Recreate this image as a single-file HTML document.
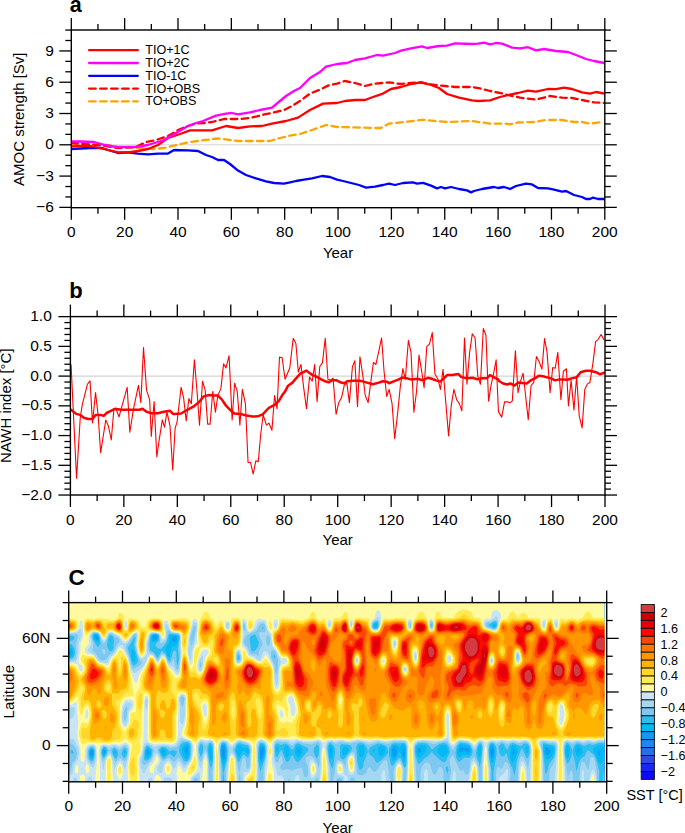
<!DOCTYPE html><html><head><meta charset="utf-8"><style>html,body{margin:0;padding:0;background:#fff;width:685px;height:833px;overflow:hidden}svg{display:block}</style></head><body>
<svg width="685" height="833" viewBox="0 0 685 833">
<rect width="685" height="833" fill="#fff"/>
<line x1="71.3" y1="144.8" x2="604.8" y2="144.8" stroke="#d4d4d4" stroke-width="1.0"/>
<g clip-path="url(#ca)">
<clipPath id="ca"><rect x="71.3" y="30.0" width="533.5" height="177.7"/></clipPath>
<path d="M71.3 144 L108 145 L118 147 L138 148 L154 149 L164 148 L174 145.6 L188 142.4 L205 140 L218 138.4 L238 141 L254 141 L270 141 L280 138 L290 135.6 L300 134 L312 130 L326 125 L337 127 L355 127.4 L375 128 L381 128 L389 123.6 L401 122.4 L413 121 L423 119.6 L435 121 L447 122 L459 121.6 L472 121 L482 122.4 L490 123.6 L506 123.6 L510 124.4 L518 122.4 L534 122 L546 120 L562 120 L574 122 L582 122 L590 123.6 L600 122.4" fill="none" stroke="#ffa500" stroke-width="2.3" stroke-linejoin="round" stroke-linecap="round" stroke-dasharray="6.6 4.4"/>
<path d="M71.3 149 L90 148 L102 148 L108 150 L118 153 L128 152.4 L138 153.6 L148 154.4 L158 153.6 L168 153.6 L174 150 L188 150.4 L198 151 L206 155 L212 157 L218 160 L224 160 L230 164 L238 170.6 L246 175 L256 178.4 L266 181.4 L274 183 L284 183.6 L290 182.4 L296 181 L304 179.6 L312 178.4 L322 176 L330 177 L337 179.6 L343 181 L351 183 L359 185 L366 187.6 L375 186.6 L383 185 L389 183.6 L395 185 L403 183 L413 182.4 L417 183.6 L423 182.8 L431 185.6 L437 188.4 L441 187 L445 188.4 L451 187 L459 189 L467 190.4 L471 192.4 L474 191 L482 189 L488 188 L494 187 L498 188 L504 187 L510 189 L516 186 L526 183.6 L532 184.4 L538 188 L548 188.4 L554 189.6 L562 191.6 L566 191 L574 195 L582 197 L586 199 L590 199 L593 197.6 L598 199 L604.5 199" fill="none" stroke="#0000ff" stroke-width="2.3" stroke-linejoin="round" stroke-linecap="round"/>
<path d="M71.3 143 L98 145 L118 148 L136 147 L146 142 L156 140 L168 136 L178 130 L188 126 L196 123.6 L205 123 L212 122 L224 119 L240 119 L252 117.6 L262 115 L274 112.4 L284 110 L292 106 L300 101 L310 93.6 L320 89.6 L328 85.6 L337 83.6 L345 81 L355 83 L365 86 L375 83.6 L389 82.4 L401 84 L411 83 L421 82.4 L431 84.4 L445 86 L455 87 L472 87 L480 88.4 L490 91 L500 93 L508 95 L520 97.6 L536 99.6 L550 96 L562 97.6 L572 98 L582 100 L594 102.4 L604.5 103" fill="none" stroke="#ff0000" stroke-width="2.3" stroke-linejoin="round" stroke-linecap="round" stroke-dasharray="6.6 4.4"/>
<path d="M71.3 146.4 L88 145.6 L104 149 L118 152.4 L128 152.4 L138 151 L148 149 L158 145 L168 138 L180 134 L190 130.4 L205 130.4 L212 130.4 L226 126 L238 128 L250 126.4 L262 126 L272 123.6 L286 121 L298 117.6 L310 110 L323 103.6 L337 103 L345 101 L355 100 L365 100 L373 97 L383 93.6 L391 89 L401 87 L411 84 L421 82.4 L431 85 L439 88 L447 94 L459 97.6 L472 100.4 L478 101 L490 100.4 L500 97 L510 94.6 L518 93 L528 90.6 L536 91.6 L548 89 L556 89.2 L564 87.6 L572 89 L582 92.4 L590 93.6 L596 92 L604.5 93.6" fill="none" stroke="#ff0000" stroke-width="2.3" stroke-linejoin="round" stroke-linecap="round"/>
<path d="M71.3 141.4 L80 141.5 L94 142 L105 145 L116 147 L126 147 L136 147 L148 145 L164 140 L176 133 L188 126 L196 123 L203 121 L216 115.6 L226 113.6 L232 113 L238 114.4 L250 112.4 L260 110 L272 107.6 L280 101 L286 96 L294 91 L300 88 L310 78 L320 72 L326 66.6 L337 64 L347 63 L355 60 L365 58.4 L377 55 L383 55.6 L395 53 L401 50.6 L411 48.4 L422 46.4 L427 48 L439 46 L447 45.6 L455 43.4 L472 44 L478 43.6 L484 42.6 L490 44.4 L496 43 L502 43.6 L512 47.6 L520 48.4 L528 47.2 L536 50.4 L544 49 L556 51 L568 52 L576 55 L586 59 L594 61 L604.5 63" fill="none" stroke="#ff00ff" stroke-width="2.3" stroke-linejoin="round" stroke-linecap="round"/>
</g>
<rect x="71.3" y="30" width="533.5" height="177.7" fill="none" stroke="#000" stroke-width="1.4"/>
<line x1="71.3" y1="207.7" x2="71.3" y2="219.7" stroke="#000" stroke-width="1.3"/>
<line x1="71.3" y1="30" x2="71.3" y2="18" stroke="#000" stroke-width="1.3"/>
<text x="71.3" y="237.2" font-size="15.5" text-anchor="middle" font-weight="normal" font-family="Liberation Sans, sans-serif">0</text>
<line x1="97.97" y1="207.7" x2="97.97" y2="213.7" stroke="#000" stroke-width="1.3"/>
<line x1="97.97" y1="30" x2="97.97" y2="24" stroke="#000" stroke-width="1.3"/>
<line x1="124.65" y1="207.7" x2="124.65" y2="219.7" stroke="#000" stroke-width="1.3"/>
<line x1="124.65" y1="30" x2="124.65" y2="18" stroke="#000" stroke-width="1.3"/>
<text x="124.65" y="237.2" font-size="15.5" text-anchor="middle" font-weight="normal" font-family="Liberation Sans, sans-serif">20</text>
<line x1="151.32" y1="207.7" x2="151.32" y2="213.7" stroke="#000" stroke-width="1.3"/>
<line x1="151.32" y1="30" x2="151.32" y2="24" stroke="#000" stroke-width="1.3"/>
<line x1="178" y1="207.7" x2="178" y2="219.7" stroke="#000" stroke-width="1.3"/>
<line x1="178" y1="30" x2="178" y2="18" stroke="#000" stroke-width="1.3"/>
<text x="178" y="237.2" font-size="15.5" text-anchor="middle" font-weight="normal" font-family="Liberation Sans, sans-serif">40</text>
<line x1="204.68" y1="207.7" x2="204.68" y2="213.7" stroke="#000" stroke-width="1.3"/>
<line x1="204.68" y1="30" x2="204.68" y2="24" stroke="#000" stroke-width="1.3"/>
<line x1="231.35" y1="207.7" x2="231.35" y2="219.7" stroke="#000" stroke-width="1.3"/>
<line x1="231.35" y1="30" x2="231.35" y2="18" stroke="#000" stroke-width="1.3"/>
<text x="231.35" y="237.2" font-size="15.5" text-anchor="middle" font-weight="normal" font-family="Liberation Sans, sans-serif">60</text>
<line x1="258.02" y1="207.7" x2="258.02" y2="213.7" stroke="#000" stroke-width="1.3"/>
<line x1="258.02" y1="30" x2="258.02" y2="24" stroke="#000" stroke-width="1.3"/>
<line x1="284.7" y1="207.7" x2="284.7" y2="219.7" stroke="#000" stroke-width="1.3"/>
<line x1="284.7" y1="30" x2="284.7" y2="18" stroke="#000" stroke-width="1.3"/>
<text x="284.7" y="237.2" font-size="15.5" text-anchor="middle" font-weight="normal" font-family="Liberation Sans, sans-serif">80</text>
<line x1="311.38" y1="207.7" x2="311.38" y2="213.7" stroke="#000" stroke-width="1.3"/>
<line x1="311.38" y1="30" x2="311.38" y2="24" stroke="#000" stroke-width="1.3"/>
<line x1="338.05" y1="207.7" x2="338.05" y2="219.7" stroke="#000" stroke-width="1.3"/>
<line x1="338.05" y1="30" x2="338.05" y2="18" stroke="#000" stroke-width="1.3"/>
<text x="338.05" y="237.2" font-size="15.5" text-anchor="middle" font-weight="normal" font-family="Liberation Sans, sans-serif">100</text>
<line x1="364.73" y1="207.7" x2="364.73" y2="213.7" stroke="#000" stroke-width="1.3"/>
<line x1="364.73" y1="30" x2="364.73" y2="24" stroke="#000" stroke-width="1.3"/>
<line x1="391.4" y1="207.7" x2="391.4" y2="219.7" stroke="#000" stroke-width="1.3"/>
<line x1="391.4" y1="30" x2="391.4" y2="18" stroke="#000" stroke-width="1.3"/>
<text x="391.4" y="237.2" font-size="15.5" text-anchor="middle" font-weight="normal" font-family="Liberation Sans, sans-serif">120</text>
<line x1="418.07" y1="207.7" x2="418.07" y2="213.7" stroke="#000" stroke-width="1.3"/>
<line x1="418.07" y1="30" x2="418.07" y2="24" stroke="#000" stroke-width="1.3"/>
<line x1="444.75" y1="207.7" x2="444.75" y2="219.7" stroke="#000" stroke-width="1.3"/>
<line x1="444.75" y1="30" x2="444.75" y2="18" stroke="#000" stroke-width="1.3"/>
<text x="444.75" y="237.2" font-size="15.5" text-anchor="middle" font-weight="normal" font-family="Liberation Sans, sans-serif">140</text>
<line x1="471.43" y1="207.7" x2="471.43" y2="213.7" stroke="#000" stroke-width="1.3"/>
<line x1="471.43" y1="30" x2="471.43" y2="24" stroke="#000" stroke-width="1.3"/>
<line x1="498.1" y1="207.7" x2="498.1" y2="219.7" stroke="#000" stroke-width="1.3"/>
<line x1="498.1" y1="30" x2="498.1" y2="18" stroke="#000" stroke-width="1.3"/>
<text x="498.1" y="237.2" font-size="15.5" text-anchor="middle" font-weight="normal" font-family="Liberation Sans, sans-serif">160</text>
<line x1="524.77" y1="207.7" x2="524.77" y2="213.7" stroke="#000" stroke-width="1.3"/>
<line x1="524.77" y1="30" x2="524.77" y2="24" stroke="#000" stroke-width="1.3"/>
<line x1="551.45" y1="207.7" x2="551.45" y2="219.7" stroke="#000" stroke-width="1.3"/>
<line x1="551.45" y1="30" x2="551.45" y2="18" stroke="#000" stroke-width="1.3"/>
<text x="551.45" y="237.2" font-size="15.5" text-anchor="middle" font-weight="normal" font-family="Liberation Sans, sans-serif">180</text>
<line x1="578.12" y1="207.7" x2="578.12" y2="213.7" stroke="#000" stroke-width="1.3"/>
<line x1="578.12" y1="30" x2="578.12" y2="24" stroke="#000" stroke-width="1.3"/>
<line x1="604.8" y1="207.7" x2="604.8" y2="219.7" stroke="#000" stroke-width="1.3"/>
<line x1="604.8" y1="30" x2="604.8" y2="18" stroke="#000" stroke-width="1.3"/>
<text x="604.8" y="237.2" font-size="15.5" text-anchor="middle" font-weight="normal" font-family="Liberation Sans, sans-serif">200</text>
<text x="338.05" y="258" font-size="15" text-anchor="middle" font-weight="normal" font-family="Liberation Sans, sans-serif">Year</text>
<line x1="65.3" y1="196.95" x2="71.3" y2="196.95" stroke="#000" stroke-width="1.3"/>
<line x1="604.8" y1="196.95" x2="610.8" y2="196.95" stroke="#000" stroke-width="1.3"/>
<line x1="65.3" y1="186.52" x2="71.3" y2="186.52" stroke="#000" stroke-width="1.3"/>
<line x1="604.8" y1="186.52" x2="610.8" y2="186.52" stroke="#000" stroke-width="1.3"/>
<line x1="65.3" y1="165.66" x2="71.3" y2="165.66" stroke="#000" stroke-width="1.3"/>
<line x1="604.8" y1="165.66" x2="610.8" y2="165.66" stroke="#000" stroke-width="1.3"/>
<line x1="65.3" y1="155.23" x2="71.3" y2="155.23" stroke="#000" stroke-width="1.3"/>
<line x1="604.8" y1="155.23" x2="610.8" y2="155.23" stroke="#000" stroke-width="1.3"/>
<line x1="65.3" y1="134.37" x2="71.3" y2="134.37" stroke="#000" stroke-width="1.3"/>
<line x1="604.8" y1="134.37" x2="610.8" y2="134.37" stroke="#000" stroke-width="1.3"/>
<line x1="65.3" y1="123.94" x2="71.3" y2="123.94" stroke="#000" stroke-width="1.3"/>
<line x1="604.8" y1="123.94" x2="610.8" y2="123.94" stroke="#000" stroke-width="1.3"/>
<line x1="65.3" y1="103.08" x2="71.3" y2="103.08" stroke="#000" stroke-width="1.3"/>
<line x1="604.8" y1="103.08" x2="610.8" y2="103.08" stroke="#000" stroke-width="1.3"/>
<line x1="65.3" y1="92.65" x2="71.3" y2="92.65" stroke="#000" stroke-width="1.3"/>
<line x1="604.8" y1="92.65" x2="610.8" y2="92.65" stroke="#000" stroke-width="1.3"/>
<line x1="65.3" y1="71.79" x2="71.3" y2="71.79" stroke="#000" stroke-width="1.3"/>
<line x1="604.8" y1="71.79" x2="610.8" y2="71.79" stroke="#000" stroke-width="1.3"/>
<line x1="65.3" y1="61.36" x2="71.3" y2="61.36" stroke="#000" stroke-width="1.3"/>
<line x1="604.8" y1="61.36" x2="610.8" y2="61.36" stroke="#000" stroke-width="1.3"/>
<line x1="65.3" y1="40.5" x2="71.3" y2="40.5" stroke="#000" stroke-width="1.3"/>
<line x1="604.8" y1="40.5" x2="610.8" y2="40.5" stroke="#000" stroke-width="1.3"/>
<line x1="65.3" y1="30.07" x2="71.3" y2="30.07" stroke="#000" stroke-width="1.3"/>
<line x1="604.8" y1="30.07" x2="610.8" y2="30.07" stroke="#000" stroke-width="1.3"/>
<line x1="59.3" y1="207.38" x2="71.3" y2="207.38" stroke="#000" stroke-width="1.3"/>
<line x1="604.8" y1="207.38" x2="616.8" y2="207.38" stroke="#000" stroke-width="1.3"/>
<text x="53.8" y="211.98" font-size="15.5" text-anchor="end" font-weight="normal" font-family="Liberation Sans, sans-serif">−6</text>
<line x1="59.3" y1="176.09" x2="71.3" y2="176.09" stroke="#000" stroke-width="1.3"/>
<line x1="604.8" y1="176.09" x2="616.8" y2="176.09" stroke="#000" stroke-width="1.3"/>
<text x="53.8" y="180.69" font-size="15.5" text-anchor="end" font-weight="normal" font-family="Liberation Sans, sans-serif">−3</text>
<line x1="59.3" y1="144.8" x2="71.3" y2="144.8" stroke="#000" stroke-width="1.3"/>
<line x1="604.8" y1="144.8" x2="616.8" y2="144.8" stroke="#000" stroke-width="1.3"/>
<text x="53.8" y="149.4" font-size="15.5" text-anchor="end" font-weight="normal" font-family="Liberation Sans, sans-serif">0</text>
<line x1="59.3" y1="113.51" x2="71.3" y2="113.51" stroke="#000" stroke-width="1.3"/>
<line x1="604.8" y1="113.51" x2="616.8" y2="113.51" stroke="#000" stroke-width="1.3"/>
<text x="53.8" y="118.11" font-size="15.5" text-anchor="end" font-weight="normal" font-family="Liberation Sans, sans-serif">3</text>
<line x1="59.3" y1="82.22" x2="71.3" y2="82.22" stroke="#000" stroke-width="1.3"/>
<line x1="604.8" y1="82.22" x2="616.8" y2="82.22" stroke="#000" stroke-width="1.3"/>
<text x="53.8" y="86.82" font-size="15.5" text-anchor="end" font-weight="normal" font-family="Liberation Sans, sans-serif">6</text>
<line x1="59.3" y1="50.93" x2="71.3" y2="50.93" stroke="#000" stroke-width="1.3"/>
<line x1="604.8" y1="50.93" x2="616.8" y2="50.93" stroke="#000" stroke-width="1.3"/>
<text x="53.8" y="55.53" font-size="15.5" text-anchor="end" font-weight="normal" font-family="Liberation Sans, sans-serif">9</text>
<text transform="translate(24.4 119.2) rotate(-90)" font-size="15" text-anchor="middle" font-weight="normal" font-family="Liberation Sans, sans-serif">AMOC strength [Sv]</text>
<text x="69.8" y="12.2" font-size="21.5" text-anchor="start" font-weight="bold" font-family="Liberation Sans, sans-serif">a</text>
<path d="M89.1 50.2 L137.8 50.2" fill="none" stroke="#ff0000" stroke-width="2.3" stroke-linejoin="round" stroke-linecap="round"/>
<text x="145.2" y="54.1" font-size="12.6" text-anchor="start" font-weight="normal" font-family="Liberation Sans, sans-serif">TIO+1C</text>
<path d="M89.1 63 L137.8 63" fill="none" stroke="#ff00ff" stroke-width="2.3" stroke-linejoin="round" stroke-linecap="round"/>
<text x="145.2" y="66.9" font-size="12.6" text-anchor="start" font-weight="normal" font-family="Liberation Sans, sans-serif">TIO+2C</text>
<path d="M89.1 75.8 L137.8 75.8" fill="none" stroke="#0000ff" stroke-width="2.3" stroke-linejoin="round" stroke-linecap="round"/>
<text x="145.2" y="79.7" font-size="12.6" text-anchor="start" font-weight="normal" font-family="Liberation Sans, sans-serif">TIO-1C</text>
<path d="M89.1 88.6 L137.8 88.6" fill="none" stroke="#ff0000" stroke-width="2.3" stroke-linejoin="round" stroke-linecap="round" stroke-dasharray="6.6 4.4"/>
<text x="145.2" y="92.5" font-size="12.6" text-anchor="start" font-weight="normal" font-family="Liberation Sans, sans-serif">TIO+OBS</text>
<path d="M89.1 101.4 L137.8 101.4" fill="none" stroke="#ffa500" stroke-width="2.3" stroke-linejoin="round" stroke-linecap="round" stroke-dasharray="6.6 4.4"/>
<text x="145.2" y="105.3" font-size="12.6" text-anchor="start" font-weight="normal" font-family="Liberation Sans, sans-serif">TO+OBS</text>
<line x1="70.4" y1="376.1" x2="605" y2="376.1" stroke="#c8c8c8" stroke-width="1.0"/>
<clipPath id="cb"><rect x="70.4" y="316.6" width="534.6" height="178.39999999999998"/></clipPath>
<g clip-path="url(#cb)">
<path d="M71.06 364.9 L76.57 478.16 L80.24 417.96 L82.29 404.69 L87.39 384.29 L90.04 380.82 L92.49 423.06 L95.55 392.45 L98.2 415.92 L100.65 452.65 L105.76 420 L108.41 426.12 L111.27 440 L113.92 408.78 L115.96 408.78 L119.02 416.94 L122.08 405.71 L127.18 387.35 L129.84 432.24 L133.31 409.8 L138.41 385.31 L140.86 402.65 L143.51 347.55 L146.57 390.41 L149.63 399.59 L151.27 436.33 L154.12 401.63 L156.78 456.73 L159.43 438.37 L162.29 420 L164.53 427.14 L166.98 411.84 L170.04 426.12 L172.69 470 L175.14 428.16 L177.04 422.04 L181.12 387.35 L183.57 397.55 L186.22 421.02 L188.88 398.57 L191.33 403.67 L194.39 359.8 L197.04 391.43 L199.49 425.1 L202.55 381.22 L205.2 390.41 L207.65 424.08 L210.1 424.08 L212.76 391.43 L215.41 412.24 L217.86 395.51 L220.92 388.37 L223.57 363.88 L226.02 367.96 L229.08 355.71 L232.14 420 L234.59 383.27 L237.24 391.43 L239.9 425.1 L242.35 389.39 L245.41 403.67 L248.06 462.45 L250.51 462.45 L253.16 474.08 L255.82 460.82 L258.27 461.84 L260.71 434.29 L263.16 414.9 L266.43 425.1 L268.88 423.06 L271.94 430.2 L274.59 395.51 L277.04 408.78 L279.49 357.14 L282.14 357.76 L285.06 379.18 L289.76 367.96 L293.22 338.37 L295.88 343.47 L298.33 372.04 L300.98 364.49 L303.63 387.35 L306.49 408.78 L309.55 377.14 L312.2 381.22 L314.65 364.49 L317.1 401.63 L319.76 366.53 L322.41 362.86 L325.27 338.37 L327.92 379.18 L330.57 380.2 L333.02 378.16 L336.08 414.29 L338.73 402.65 L341.59 397.55 L344.24 385.31 L346.9 383.27 L349.35 402.65 L352.41 366.94 L354.86 360.82 L357.51 406.73 L359.96 356.73 L362.61 374.08 L365.27 395.51 L368.12 402.65 L371.18 379.18 L373.43 362.45 L375.88 364.49 L378.94 350.61 L381.59 337.96 L384.04 371.02 L386.69 396.53 L389.14 389.39 L392.06 403.67 L394.71 438.78 L397.57 413.88 L400.22 387.35 L402.88 368.57 L405.33 379.18 L408.39 340.41 L411.04 352.65 L413.9 412.24 L416.55 391.43 L419 355.1 L421.65 371.02 L424.1 387.76 L426.76 346.53 L429.41 344.08 L432.27 332.65 L434.92 374.08 L437.98 379.18 L440.43 389.39 L443.08 369.39 L445.73 401.63 L448.59 435.92 L451.24 405.71 L453.9 389.39 L456.76 400 L459.41 403.67 L461.86 410.82 L464.51 337.96 L466.96 384.29 L469.61 352.65 L472.27 333.88 L475.12 337.96 L477.78 376.12 L480.43 384.29 L483.29 328.57 L485.94 335.31 L488.59 401.22 L491.04 385.31 L493.69 373.06 L496.14 359.8 L498.45 411.63 L501.71 417.14 L504.57 401.84 L507.22 401.84 L509.88 402.86 L512.33 400.82 L515.39 350.82 L518.04 392.65 L520.49 381.43 L523.14 373.27 L525.59 395.71 L528.24 419.59 L531.1 385.51 L533.76 382.45 L536.41 356.53 L538.86 361.02 L541.92 369.18 L544.57 338.57 L547.02 351.84 L550.08 392.65 L552.73 367.55 L555.18 368.16 L557.84 352.45 L560.9 399.8 L563.35 371.22 L566.41 368.78 L568.45 405.92 L571.1 380.41 L573.96 410 L576.61 376.33 L579.27 416.12 L582.12 427.96 L584.78 389.59 L587.43 383.88 L589.88 382.45 L592.94 363.06 L595.59 341.63 L598.04 339.59 L601.1 334.49 L603.76 339.59" fill="none" stroke="#ff0000" stroke-width="1.1" stroke-linejoin="round" stroke-linecap="round"/>
<path d="M71.06 409.8 L76.16 413.88 L80.24 414.9 L84.33 417.96 L88.41 418.98 L92.49 418.98 L95.55 414.9 L100.65 414.9 L103.71 415.92 L106.78 412.86 L110.86 410.82 L114.94 408.78 L121.06 409.8 L127.18 409.8 L133.31 409.8 L139.43 409.8 L142.49 408.78 L146.57 411.84 L151.67 413.27 L157.8 413.27 L163.92 411.84 L170.04 410.82 L173.1 413.88 L175 413.88 L181.12 413.47 L187.24 409.8 L193.37 406.73 L199.49 401.63 L203.57 396.53 L208.67 395.1 L213.78 395.51 L217.86 395.51 L221.94 399.59 L226.02 405.71 L230.1 409.8 L234.18 413.47 L240.31 413.88 L246.43 415.51 L252.55 416.53 L257.65 416.33 L262.76 414.29 L268.88 407.76 L275 404.69 L279.08 400.61 L282 395.51 L285.06 391.43 L288.12 385.71 L292.2 382.86 L296.29 378.16 L300.37 373.47 L303.43 372.04 L306.49 370.61 L309.55 373.06 L312.61 375.1 L316.69 376.73 L320.78 379.18 L324.86 381.22 L328.94 382.24 L332 380.2 L336.08 380.2 L340.16 382.24 L344.24 383.27 L347.31 381.22 L353.43 380.82 L359.55 380.82 L363.63 381.63 L367.71 382.86 L372.82 384.29 L377.92 382.86 L383.02 381.22 L387.1 381.84 L389 383.27 L393.08 381.63 L398.18 379.59 L402.27 377.55 L406.35 378.16 L411.45 379.59 L417.57 378.78 L422.67 380.2 L427.78 377.76 L431.86 378.78 L435.94 380.41 L440.02 381.63 L443.08 379.18 L447.16 375.1 L452.27 375.1 L458.39 374.08 L461.45 377.14 L466.55 378.16 L472.67 377.76 L476.76 379.18 L482.88 378.16 L486.96 378.16 L490.02 375.1 L498.04 379.39 L499.06 381.02 L503.14 383.47 L507.22 384.49 L510.29 383.47 L514.37 385.51 L518.45 382.45 L522.53 383.06 L526.61 383.47 L530.69 380.41 L534.78 378.37 L538.86 375.71 L542.94 376.33 L547.02 377.35 L551.1 378.37 L555.18 380.41 L559.27 379.39 L563.35 379.39 L567.43 379.8 L571.51 378.37 L576.61 377.35 L580.69 372.24 L585.8 370.82 L589.88 370.82 L596 372.24 L600.08 374.29 L603.76 372.86" fill="none" stroke="#ff0000" stroke-width="2.5" stroke-linejoin="round" stroke-linecap="round"/>
</g>
<rect x="70.4" y="316.6" width="534.6" height="178.4" fill="none" stroke="#000" stroke-width="1.4"/>
<line x1="70.4" y1="495" x2="70.4" y2="507" stroke="#000" stroke-width="1.3"/>
<line x1="70.4" y1="316.6" x2="70.4" y2="304.6" stroke="#000" stroke-width="1.3"/>
<text x="70.4" y="524.6" font-size="15.5" text-anchor="middle" font-weight="normal" font-family="Liberation Sans, sans-serif">0</text>
<line x1="97.13" y1="495" x2="97.13" y2="501" stroke="#000" stroke-width="1.3"/>
<line x1="97.13" y1="316.6" x2="97.13" y2="310.6" stroke="#000" stroke-width="1.3"/>
<line x1="123.86" y1="495" x2="123.86" y2="507" stroke="#000" stroke-width="1.3"/>
<line x1="123.86" y1="316.6" x2="123.86" y2="304.6" stroke="#000" stroke-width="1.3"/>
<text x="123.86" y="524.6" font-size="15.5" text-anchor="middle" font-weight="normal" font-family="Liberation Sans, sans-serif">20</text>
<line x1="150.59" y1="495" x2="150.59" y2="501" stroke="#000" stroke-width="1.3"/>
<line x1="150.59" y1="316.6" x2="150.59" y2="310.6" stroke="#000" stroke-width="1.3"/>
<line x1="177.32" y1="495" x2="177.32" y2="507" stroke="#000" stroke-width="1.3"/>
<line x1="177.32" y1="316.6" x2="177.32" y2="304.6" stroke="#000" stroke-width="1.3"/>
<text x="177.32" y="524.6" font-size="15.5" text-anchor="middle" font-weight="normal" font-family="Liberation Sans, sans-serif">40</text>
<line x1="204.05" y1="495" x2="204.05" y2="501" stroke="#000" stroke-width="1.3"/>
<line x1="204.05" y1="316.6" x2="204.05" y2="310.6" stroke="#000" stroke-width="1.3"/>
<line x1="230.78" y1="495" x2="230.78" y2="507" stroke="#000" stroke-width="1.3"/>
<line x1="230.78" y1="316.6" x2="230.78" y2="304.6" stroke="#000" stroke-width="1.3"/>
<text x="230.78" y="524.6" font-size="15.5" text-anchor="middle" font-weight="normal" font-family="Liberation Sans, sans-serif">60</text>
<line x1="257.51" y1="495" x2="257.51" y2="501" stroke="#000" stroke-width="1.3"/>
<line x1="257.51" y1="316.6" x2="257.51" y2="310.6" stroke="#000" stroke-width="1.3"/>
<line x1="284.24" y1="495" x2="284.24" y2="507" stroke="#000" stroke-width="1.3"/>
<line x1="284.24" y1="316.6" x2="284.24" y2="304.6" stroke="#000" stroke-width="1.3"/>
<text x="284.24" y="524.6" font-size="15.5" text-anchor="middle" font-weight="normal" font-family="Liberation Sans, sans-serif">80</text>
<line x1="310.97" y1="495" x2="310.97" y2="501" stroke="#000" stroke-width="1.3"/>
<line x1="310.97" y1="316.6" x2="310.97" y2="310.6" stroke="#000" stroke-width="1.3"/>
<line x1="337.7" y1="495" x2="337.7" y2="507" stroke="#000" stroke-width="1.3"/>
<line x1="337.7" y1="316.6" x2="337.7" y2="304.6" stroke="#000" stroke-width="1.3"/>
<text x="337.7" y="524.6" font-size="15.5" text-anchor="middle" font-weight="normal" font-family="Liberation Sans, sans-serif">100</text>
<line x1="364.43" y1="495" x2="364.43" y2="501" stroke="#000" stroke-width="1.3"/>
<line x1="364.43" y1="316.6" x2="364.43" y2="310.6" stroke="#000" stroke-width="1.3"/>
<line x1="391.16" y1="495" x2="391.16" y2="507" stroke="#000" stroke-width="1.3"/>
<line x1="391.16" y1="316.6" x2="391.16" y2="304.6" stroke="#000" stroke-width="1.3"/>
<text x="391.16" y="524.6" font-size="15.5" text-anchor="middle" font-weight="normal" font-family="Liberation Sans, sans-serif">120</text>
<line x1="417.89" y1="495" x2="417.89" y2="501" stroke="#000" stroke-width="1.3"/>
<line x1="417.89" y1="316.6" x2="417.89" y2="310.6" stroke="#000" stroke-width="1.3"/>
<line x1="444.62" y1="495" x2="444.62" y2="507" stroke="#000" stroke-width="1.3"/>
<line x1="444.62" y1="316.6" x2="444.62" y2="304.6" stroke="#000" stroke-width="1.3"/>
<text x="444.62" y="524.6" font-size="15.5" text-anchor="middle" font-weight="normal" font-family="Liberation Sans, sans-serif">140</text>
<line x1="471.35" y1="495" x2="471.35" y2="501" stroke="#000" stroke-width="1.3"/>
<line x1="471.35" y1="316.6" x2="471.35" y2="310.6" stroke="#000" stroke-width="1.3"/>
<line x1="498.08" y1="495" x2="498.08" y2="507" stroke="#000" stroke-width="1.3"/>
<line x1="498.08" y1="316.6" x2="498.08" y2="304.6" stroke="#000" stroke-width="1.3"/>
<text x="498.08" y="524.6" font-size="15.5" text-anchor="middle" font-weight="normal" font-family="Liberation Sans, sans-serif">160</text>
<line x1="524.81" y1="495" x2="524.81" y2="501" stroke="#000" stroke-width="1.3"/>
<line x1="524.81" y1="316.6" x2="524.81" y2="310.6" stroke="#000" stroke-width="1.3"/>
<line x1="551.54" y1="495" x2="551.54" y2="507" stroke="#000" stroke-width="1.3"/>
<line x1="551.54" y1="316.6" x2="551.54" y2="304.6" stroke="#000" stroke-width="1.3"/>
<text x="551.54" y="524.6" font-size="15.5" text-anchor="middle" font-weight="normal" font-family="Liberation Sans, sans-serif">180</text>
<line x1="578.27" y1="495" x2="578.27" y2="501" stroke="#000" stroke-width="1.3"/>
<line x1="578.27" y1="316.6" x2="578.27" y2="310.6" stroke="#000" stroke-width="1.3"/>
<line x1="605" y1="495" x2="605" y2="507" stroke="#000" stroke-width="1.3"/>
<line x1="605" y1="316.6" x2="605" y2="304.6" stroke="#000" stroke-width="1.3"/>
<text x="605" y="524.6" font-size="15.5" text-anchor="middle" font-weight="normal" font-family="Liberation Sans, sans-serif">200</text>
<text x="337.7" y="545.4" font-size="15" text-anchor="middle" font-weight="normal" font-family="Liberation Sans, sans-serif">Year</text>
<line x1="64.4" y1="489.09" x2="70.4" y2="489.09" stroke="#000" stroke-width="1.3"/>
<line x1="605" y1="489.09" x2="611" y2="489.09" stroke="#000" stroke-width="1.3"/>
<line x1="64.4" y1="483.15" x2="70.4" y2="483.15" stroke="#000" stroke-width="1.3"/>
<line x1="605" y1="483.15" x2="611" y2="483.15" stroke="#000" stroke-width="1.3"/>
<line x1="64.4" y1="477.2" x2="70.4" y2="477.2" stroke="#000" stroke-width="1.3"/>
<line x1="605" y1="477.2" x2="611" y2="477.2" stroke="#000" stroke-width="1.3"/>
<line x1="64.4" y1="471.25" x2="70.4" y2="471.25" stroke="#000" stroke-width="1.3"/>
<line x1="605" y1="471.25" x2="611" y2="471.25" stroke="#000" stroke-width="1.3"/>
<line x1="64.4" y1="459.36" x2="70.4" y2="459.36" stroke="#000" stroke-width="1.3"/>
<line x1="605" y1="459.36" x2="611" y2="459.36" stroke="#000" stroke-width="1.3"/>
<line x1="64.4" y1="453.41" x2="70.4" y2="453.41" stroke="#000" stroke-width="1.3"/>
<line x1="605" y1="453.41" x2="611" y2="453.41" stroke="#000" stroke-width="1.3"/>
<line x1="64.4" y1="447.46" x2="70.4" y2="447.46" stroke="#000" stroke-width="1.3"/>
<line x1="605" y1="447.46" x2="611" y2="447.46" stroke="#000" stroke-width="1.3"/>
<line x1="64.4" y1="441.52" x2="70.4" y2="441.52" stroke="#000" stroke-width="1.3"/>
<line x1="605" y1="441.52" x2="611" y2="441.52" stroke="#000" stroke-width="1.3"/>
<line x1="64.4" y1="429.62" x2="70.4" y2="429.62" stroke="#000" stroke-width="1.3"/>
<line x1="605" y1="429.62" x2="611" y2="429.62" stroke="#000" stroke-width="1.3"/>
<line x1="64.4" y1="423.68" x2="70.4" y2="423.68" stroke="#000" stroke-width="1.3"/>
<line x1="605" y1="423.68" x2="611" y2="423.68" stroke="#000" stroke-width="1.3"/>
<line x1="64.4" y1="417.73" x2="70.4" y2="417.73" stroke="#000" stroke-width="1.3"/>
<line x1="605" y1="417.73" x2="611" y2="417.73" stroke="#000" stroke-width="1.3"/>
<line x1="64.4" y1="411.78" x2="70.4" y2="411.78" stroke="#000" stroke-width="1.3"/>
<line x1="605" y1="411.78" x2="611" y2="411.78" stroke="#000" stroke-width="1.3"/>
<line x1="64.4" y1="399.89" x2="70.4" y2="399.89" stroke="#000" stroke-width="1.3"/>
<line x1="605" y1="399.89" x2="611" y2="399.89" stroke="#000" stroke-width="1.3"/>
<line x1="64.4" y1="393.94" x2="70.4" y2="393.94" stroke="#000" stroke-width="1.3"/>
<line x1="605" y1="393.94" x2="611" y2="393.94" stroke="#000" stroke-width="1.3"/>
<line x1="64.4" y1="387.99" x2="70.4" y2="387.99" stroke="#000" stroke-width="1.3"/>
<line x1="605" y1="387.99" x2="611" y2="387.99" stroke="#000" stroke-width="1.3"/>
<line x1="64.4" y1="382.05" x2="70.4" y2="382.05" stroke="#000" stroke-width="1.3"/>
<line x1="605" y1="382.05" x2="611" y2="382.05" stroke="#000" stroke-width="1.3"/>
<line x1="64.4" y1="370.15" x2="70.4" y2="370.15" stroke="#000" stroke-width="1.3"/>
<line x1="605" y1="370.15" x2="611" y2="370.15" stroke="#000" stroke-width="1.3"/>
<line x1="64.4" y1="364.21" x2="70.4" y2="364.21" stroke="#000" stroke-width="1.3"/>
<line x1="605" y1="364.21" x2="611" y2="364.21" stroke="#000" stroke-width="1.3"/>
<line x1="64.4" y1="358.26" x2="70.4" y2="358.26" stroke="#000" stroke-width="1.3"/>
<line x1="605" y1="358.26" x2="611" y2="358.26" stroke="#000" stroke-width="1.3"/>
<line x1="64.4" y1="352.31" x2="70.4" y2="352.31" stroke="#000" stroke-width="1.3"/>
<line x1="605" y1="352.31" x2="611" y2="352.31" stroke="#000" stroke-width="1.3"/>
<line x1="64.4" y1="340.42" x2="70.4" y2="340.42" stroke="#000" stroke-width="1.3"/>
<line x1="605" y1="340.42" x2="611" y2="340.42" stroke="#000" stroke-width="1.3"/>
<line x1="64.4" y1="334.47" x2="70.4" y2="334.47" stroke="#000" stroke-width="1.3"/>
<line x1="605" y1="334.47" x2="611" y2="334.47" stroke="#000" stroke-width="1.3"/>
<line x1="64.4" y1="328.52" x2="70.4" y2="328.52" stroke="#000" stroke-width="1.3"/>
<line x1="605" y1="328.52" x2="611" y2="328.52" stroke="#000" stroke-width="1.3"/>
<line x1="64.4" y1="322.58" x2="70.4" y2="322.58" stroke="#000" stroke-width="1.3"/>
<line x1="605" y1="322.58" x2="611" y2="322.58" stroke="#000" stroke-width="1.3"/>
<line x1="58.4" y1="495.04" x2="70.4" y2="495.04" stroke="#000" stroke-width="1.3"/>
<line x1="605" y1="495.04" x2="617" y2="495.04" stroke="#000" stroke-width="1.3"/>
<text x="51.8" y="499.64" font-size="15.5" text-anchor="end" font-weight="normal" font-family="Liberation Sans, sans-serif">−2.0</text>
<line x1="58.4" y1="465.31" x2="70.4" y2="465.31" stroke="#000" stroke-width="1.3"/>
<line x1="605" y1="465.31" x2="617" y2="465.31" stroke="#000" stroke-width="1.3"/>
<text x="51.8" y="469.91" font-size="15.5" text-anchor="end" font-weight="normal" font-family="Liberation Sans, sans-serif">−1.5</text>
<line x1="58.4" y1="435.57" x2="70.4" y2="435.57" stroke="#000" stroke-width="1.3"/>
<line x1="605" y1="435.57" x2="617" y2="435.57" stroke="#000" stroke-width="1.3"/>
<text x="51.8" y="440.17" font-size="15.5" text-anchor="end" font-weight="normal" font-family="Liberation Sans, sans-serif">−1.0</text>
<line x1="58.4" y1="405.84" x2="70.4" y2="405.84" stroke="#000" stroke-width="1.3"/>
<line x1="605" y1="405.84" x2="617" y2="405.84" stroke="#000" stroke-width="1.3"/>
<text x="51.8" y="410.44" font-size="15.5" text-anchor="end" font-weight="normal" font-family="Liberation Sans, sans-serif">−0.5</text>
<line x1="58.4" y1="376.1" x2="70.4" y2="376.1" stroke="#000" stroke-width="1.3"/>
<line x1="605" y1="376.1" x2="617" y2="376.1" stroke="#000" stroke-width="1.3"/>
<text x="51.8" y="380.7" font-size="15.5" text-anchor="end" font-weight="normal" font-family="Liberation Sans, sans-serif">0.0</text>
<line x1="58.4" y1="346.37" x2="70.4" y2="346.37" stroke="#000" stroke-width="1.3"/>
<line x1="605" y1="346.37" x2="617" y2="346.37" stroke="#000" stroke-width="1.3"/>
<text x="51.8" y="350.97" font-size="15.5" text-anchor="end" font-weight="normal" font-family="Liberation Sans, sans-serif">0.5</text>
<line x1="58.4" y1="316.63" x2="70.4" y2="316.63" stroke="#000" stroke-width="1.3"/>
<line x1="605" y1="316.63" x2="617" y2="316.63" stroke="#000" stroke-width="1.3"/>
<text x="51.8" y="321.23" font-size="15.5" text-anchor="end" font-weight="normal" font-family="Liberation Sans, sans-serif">1.0</text>
<text transform="translate(11.3 405.7) rotate(-90)" font-size="15" text-anchor="middle" font-weight="normal" font-family="Liberation Sans, sans-serif">NAWH index [°C]</text>
<text x="69.2" y="297.6" font-size="22" text-anchor="start" font-weight="bold" font-family="Liberation Sans, sans-serif">b</text>
<clipPath id="cc"><rect x="68.7" y="602.6" width="535.8" height="179.2"/></clipPath>
<g clip-path="url(#cc)">
<rect x="68.7" y="602.6" width="535.8" height="179.2" fill="#0f0af5"/>
<path transform="scale(.5)" d="M140 1205l1069 0 0 359-1072 0 0-359z" fill="#1928f0" fill-rule="evenodd"/>
<path transform="scale(.5)" d="M140 1205l1069 0 0 359-1072 0 0-359z" fill="#2d4be1" fill-rule="evenodd"/>
<path transform="scale(.5)" d="M140 1205l1069 0 0 359-1072 0 0-359z" fill="#286ee6" fill-rule="evenodd"/>
<path transform="scale(.5)" d="M140 1205l1069 0 0 359-1072 0 0-359z" fill="#1e87f0" fill-rule="evenodd"/>
<path transform="scale(.5)" d="M140 1205l1069 0 0 359-1072 0 0-359zM445 1498l0 8 1 5 1-1 1-8-2-6zM983 1498l0 4 0 6 2-6-2-5zM524 1500l-2 4 0 2 2 2 1-4-1-5z" fill="#0f9bf5" fill-rule="evenodd"/>
<path transform="scale(.5)" d="M140 1205l1069 0 0 359-1072 0 0-254 3-1 2-4-2-4-3-1 0-95zM190 1271l-1 2 2 4 3 3 1-1 2-2-1-4-2-2-3-1zM307 1271l-2 4 2 4 2 1 3-1 3-4 0-2-3-3-3 0zM348 1273l-4 2-1 4 3 4 4 1 2-1 2-6-2-4-2 0zM445 1492l-1 1-1 5 0 12 3 10 3-1 2-9 0-10-2-8-3-1zM372 1494l-2 2-1 6 2 6 3 1 2-3 0-6 0-4-2-3zM522 1494l-2 4-1 8 2 13 3-2 4-11 0-8-1-3-3-2zM787 1494l-3 6 1 10 2 5 3-1 3-6 1-8-3-6-1-1-3 0zM921 1494l-2 1-1 3 1 7 3 0 5-5 8 5 3-1 1-4-2-4-5-1-5 1-5-3zM982 1494l-2 6 1 10 2 6 3-2 2-6 0-8-2-6-3-2zM661 1496l-1 6 1 5 2-5-2-7zM806 1496l-1 12 1 5 3 2 1-7-1-10 0-2-3-1zM838 1496l-2 0-1 6 1 4 2 1 4-3 0-4-1-3-3-2zM1091 1496l-1 10 4 5 2 0 4-5 1-4-3-4-4-4-3 1zM1134 1496l0 10 2-2 0-4-2-5zM959 1498l0 6 0-7zM1155 1498l0 6 3 0 0-6-3-1zM183 1500l-3 3 0 5 3 5 3-2 1-5-1-4 0-2-3-1zM295 1500l-2 1 0 5 0 3 3 1 3-4 0-2-3-5zM421 1500l0 4 1 8 0-14zM595 1500l1 4 1 1 1-1 1-2-2-4zM764 1500l0 2 2 1 0-4zM886 1500l1 2 0-3zM1026 1500l-1 6 0 4 1 1 3-4 0-7-3-2zM207 1502l0 5 3-2 0-4-3-1zM325 1502l0 4 3 0 0-4-3-2zM1195 1502l1 3 2 8 2-3-2-9-2 0z" fill="#00b9f5" fill-rule="evenodd"/>
<path transform="scale(.5)" d="M140 1205l1069 0 0 359-1072 0 0-249 6-2 2-3 1-5 0-4-2-4-7-2 0-90zM749 1247l-2 4 0 2 3 3 3-1 2-3 0-5-3-2-2 2zM988 1247l-2 2 0 4 3 1 2-1 1-2-1-3-2-1zM188 1269l-1 4 1 6 6 5 2 1 3-6-2-8-3-3-6 1zM306 1269l-3 4 0 8 1 2 3 1 5-1 3-2 1-4 0-6-4-2-5 0zM340 1271l-1 3-2 13-6 8-1 4 6 15 3 1 4-20 4-3 5-1 3-5 2-9 0-4-2-2-13-1zM221 1275l-2 4 2 4 1-4-1-4zM263 1301l0 8 1 10 2 4 3 0 1-2 1-6-2-10-3-5-2-1zM371 1488l-5 4-2 4 0 6 4 12 3 3 3 1 2-2 3-6 0-14 0-4-3-4-5-1zM446 1488l-2 1-2 5-1 12 4 20 1 3 3-1 3-10 1-18-2-8-2-4-3-1zM477 1490l-3 4-2 6 1 6 3 7 2 2 9-15 8 9 2-2 1-5-1-4-2-3-8 1-6-6-3-1zM521 1490l-2 4-1 14 1 14 2 6 3-3 3-6 3-10 0-7 0-6-2-4-4-3-3 0zM661 1490l-3 2-1 8 1 12 4 6 2-1 1-3 2-12-2-8-4-5zM786 1490l-3 4-2 8 1 12 3 7 2 1 3-2 6-10 2-7 3 4 5 15 3 3 2-7 1-10 0-12-3-6-3-2-2 2-6 5-2-3-3-2-6-1zM918 1490l-2 4-2 8 0 6 2 5 3 2 8-6 11 1 2-2 2-4 0-4-2-5-2-4-16-3-3 1zM981 1490l-2 6 0 12 2 11 2 7 1 0 2-1 3-9 1-14-2-10-2-3-3-1zM1133 1490l-2 6 0 12 3 8 2 0 3-8 1-10-2-6-4-3zM419 1492l-2 4 0 6 2 14 3 9 3-9-1-16-2-10-3 1zM571 1492l-3 4 0 6 4 12 3 1 3-5 1-8-3-8-4-3zM594 1492l-3 6-1 8 4 8 3 1 5-5 3-8-1-6-5-4-2-1zM719 1492l-2 6 1 12 2 4 3 0 3-2 3-6 0-10-3-5-3-1-3 1zM835 1492l-2 2-1 6 1 10 3 5 2 2 3-2 10-11 2-8-1-3-3-2-8-1-5 1zM881 1492l-6 6 0 6 4 5 5 5 3 0 2-1 6-7 1-4-1-6-3-4-3-2-2 0-6 1zM958 1492l-2 6-1 8 2 6 2 3 3-6 1-11-1-7-3-1zM1023 1492l-2 6-1 14 2 8 2 4 2 1 3-3 5-14 2-8-2-4-4-4-4-2-2 1zM1088 1492l-1 6 1 10 3 9 3 2 2 0 6-5 5-7 1-7-1-5-13-5-3 0-3 1zM1152 1492l-2 8 3 11 2 3 3-1 4-3 3-6-1-6-2-4-4-3-3-1-2 1zM1194 1492l-6 4-2 4 6 12 6 14 3 2 3-2 2-6 2-22-1-4-2-2-4-2-5 1zM553 1494l-1 4 1 6 1 2 2-4 1-6-1-2-2-1zM687 1494l-2 4 0 11 3 3 3-2 5-6 2-6-3-4-7-1zM758 1494l-2 2 0 4 1 10 3 2 6-1 4-5 1-8-2-4-3-2-6 0zM1052 1494l-1 4 2 6 0 1 3 1 1-8-1-3-3-2zM294 1496l-4 5 0 9 1 4 2 2 3 0 3-2 2-4 1-6-2-6-4-3zM1003 1496l0 2 2 2 0-6zM181 1498l-2 4-1 8 3 6 2 1 3-1 2-6 0-8-2-4-3-1zM206 1498l-1 4 0 6 2 4 3-2 3-8-2-4-4-1zM323 1498l-2 4 1 4 3 6 3 0 3-2 2-6-2-6-6-2zM746 1500l1 4 3-2 0-2-3-2zM228 1502l1 7 2 0 1-5-3-4zM248 1502l0 5 2 1 1-4-1-4z" fill="#28bef0" fill-rule="evenodd"/>
<path transform="scale(.5)" d="M140 1205l1069 0 0 282-11-1-13 4-8-2-8 4-3-1-8-4-5 0-5 5-3 8 0 6 5 18 3 19 5-19 5-8 7-4 4-11 3 0 11 9 4 8 7 26-1 20-211 0 0-20 6-34 0-10 0-4-3-6-4-4-3 0-2 1-2 3-2 10 1 14 5 28 0 22-301 0-2-4-3 2 0 2-228 0-2-18 7-26 1-18-2-12-3-4-4-1-2 1-2 4-2 10 1 13 5 33-1 18-308 0 0-26 2-6-2-6 0-208 6-1 3-2 3-4 1-6-1-8-4-6-2-2-6-1 0-6 8-1 3-3 1-3-1-2-3-1-8-1 0-66zM751 1243l-5 4-1 6 2 4 5 1 4-3 1-6-1-6-4 0zM988 1243l-10 6-1 2 9 6 3 0 2-1 3-5 0-4-2-4-3 0zM862 1249l1 5 1-3-1-3zM524 1255l0 2 3 0 0-3-3 0zM187 1267l-2 4 0 6 9 15 2 2 3-3 2-4-2-14-2-4-2-2-7 0zM307 1267l-6 4-1 6-1 16 2 8 7 4 7 11 2-3 6-11 2 0 6 6 5 12 3 2 3-3 4-16 1-1 3-1 2 2 1 4 0 16 2 9 3-13-2-22 3-20-1-6-3-2-16-2-2 2-4 16-10 12-3 1-6-3-3-4 1-4 4-4 2-4 0-8-3-3-8-1zM508 1269l-7 4-2 6 1 6 2 14 1 2 2 2 3-1 3-2 5-7 2-8-5-11-2-4-3-1zM219 1271l-4 10-1 10 4 10 3 2 2-1 3-3 1-4 1-16-2-6-3-2-2-1zM269 1273l-6 12-6 8-1 4 8 31 2 3 3 0 5-4 1-2 1-4-8-32 3-14-2-2zM476 1309l-1 6 0 4 1 1 3-1 0-8-3-2zM548 1309l-1 4 1 4 3-2-1-4-2-3zM365 1486l-3 2-3 6-1 6 0 4 10 18 3 1 3 0 3-3 3-6 1-10 0-12-2-6-3-2-5 0-5 1zM478 1486l-2 1-3 3-4 10 7 23 2 2 6-13 3-3 2 1 6 5 2 0 3-13-3-9-2-2-17-5zM803 1486l-5 1-8-1-6 2-6 8-1 8 4 22 1 3 2 3 1 0 2-2 6-9 5-5 3 1 2 5 6 14 3-3 1-9 0-30-1-5-3-3-6 0zM919 1486l-5 6-3 12 1 10 4 9 3 1 8-8 3-1 8 1 2-2 4-4 1-6-1-6-4-8-5-3-13-2-3 0zM418 1488l-3 6 0 6 4 28 3 10 4-16 0-26-1-6-2-2-1-2-3 0zM519 1488l-2 8-1 20 3 19 2 9 9-28 2-14-1-6-1-6-3-3-6-1zM552 1488l-2 4 0 6 0 10 2 6 2 1 2-3 6-12 2 2 6 16 2 5 3 1 3-2 5-11 3 0 5 11 3 2 3 0 2-2 18-22-1-4-19-9-3 0-3 2-5 10-3 0-4-7-5-4-4-1-8 3-6-3-2 0zM658 1488l-2 3-1 5 2 16 1 9 6 16 2-1 4-28 0-10-2-6-4-4-3-2-3 1zM716 1488l-2 2-2 4 3 31 3 13 2 2 3-1 3-5 2-10 4-10 4-12-3-8-5-6-5-2-5 1zM754 1488l-13 6-3 4-1 4 1 4 2 4 7 5 5 9 3 2 3-2 14-12 4-6 0-4-1-6-3-4-9-4-8-1zM835 1488l-3 2-2 4 0 8 1 10 5 16 2 0 11-11 10-7 4-6 2 1 2 3 17 15 5 2 3-3 8-18-2-8-3-7-3-2-5-1-8 2-9 6-5 5-2-1-4-6-5-5-8-1-10 1zM958 1488l-4 8-2 12 1 6 5 12 1 8 3-11 3-27-2-8-1-1-3 0zM1002 1488l-4 4-1 4 2 10 3 6 3 1 3-1 5-6 4 14 8 18 4 12 3-12 2-18 8-21 3-1 7 16 1 2 3 0 3-10 0-12-3-5-3-2-5 0-6 5-2 0-14-6-5 2-4 6-1 3-3 2-2-5-2-4-4-3-3 0zM1086 1488l-1 6 6 54 3-4 4-16 9-12 2-4 2-14-1-6-2-2-9-1-11-3zM1132 1488l-3 8 1 16 4 14 2 1 5-9 3-10 0-8-4-10-4-4-2 0zM400 1490l-2 8 1 8 2 8 2-3 3-9 1-6-2-6-2-2-2 0zM633 1490l-5 6-1 6 2 8 5 7 3-6 1-15-1-6-3-1zM681 1490l-1 2 0 22 3 4 5 1 15-19 1-4-2-4-3-2-16-2zM292 1494l-3 8-1 16 2 3 3 0 6-3 4-6 2-10-2-4-4-4-3-2-3 0zM180 1496l-3 6 0 10 3 8 3 2 3-1 3-9 0-12-3-5-6 0zM206 1496l-2 4-1 6 2 7 2 3 3-2 2-4 3-8-2-6-3-2-3 0zM249 1496l-4 4-2 8 3 6 2 2 2-1 3-4 1-7-1-6-3-3zM321 1496l-3 4 1 4 4 8 2 4 3 1 3-2 8-8 8 7 3-1 3-7 1-2-2-2-5-2-8 3-4-5-4-3-6-1-2 0zM226 1498l-2 4 2 8 3 5 2 2 2-1 3-6-1-8-4-5-2-1-3 1zM141 1502l1 4 3 2 2-2 0-2-2-3-2-1zM892 1534l0 6 3 8 2-8-2-8zM1209 1537l0 27-3 0 0-8 1-10 2-8z" fill="#7dc8f0" fill-rule="evenodd"/>
<path transform="scale(.5)" d="M140 1205l1069 0 0 279-11-1-10 3-11-2-11 3-11-4-2 1-8 4-9-4-2-1-3 1-3 8 0 14 2 16 5 30 0 12-36 0 0-15 1-9 2-5 5-7 5-21 1-13-1-4-2-4-11 0-11-3-3 1-3 2 0 4 2 12 2 16 1 46-52 0 2-38 3-10 2-3 3-1 3 4 6 14 2 9 0-1 5-34 0-8-2-7-3-4-5-2-14 4-11-3-2 0-8 4-3 0-8-4-3 0-8 4-8-4-5 0-3 2-1 4-1 8 1 18 3 24 0 24-17 0 1-40 2-30-2-8-2-2-3 0-2 2-6 12-3 2-6-10-4-5-14-2-5 0-5 5-6 10-2 3-11-17-3-2-24 6-3 0-11-4-5-1-13 1-5 4-2 6-1 8 3 24 2 38-21 0 2-42 0-28-2-8-3-3-3 0-19 0-10 5-22-4-16 5-3 0-10-5-6-1-19 4-21-3-8 4-8-4-6 0-3 4-2 8 7 44 1 24-24 0-1-6-2-4-5 10-49 0-1-6-1-3-2 9-49 0 0-22 5-30 1-16-1-6-2-4-5-2-4-1-2 1-2 4-2 8 0 22 2 26 0 20-35 0-1-10-2-4 0-6 5-23 3-6 2 1 3 6 1 14 2 2 2-1 2-5 2-32-1-7-3-4-16-6-5 1-4 4-7 12 7 16 4 20 2 6 0 22-26 0 0-24 6-40-4-13-2-3-6-1-2 1-3 3-2 9 3 46 0 22-17 0 0-22 2-24 0-22-1-8-1-3-3-2-5 2-6 6-5-6-3-1-2 0-4 6-1 8 2 18 3 8 2-4 6-17 2-3 3 6 3 20 1 38-21 0-2-8-2-1-3 1-2 2-2 6-249 0 0-19 3-1 1-2 4-16 8-10 1-8-1-8-4-8-6-5-6-1 0-165 11-2 3-4 2-10-1-18 4-14 0-2-2-2-17-1 0-63zM751 1241l-6 4-1 4 0 4 0 3 3 3 6 0 2-1 2-3 2-8-1-5-3-2-3 1zM987 1241l-6 3-8 1-2 2 0 4 2 2 3 2 10 3 5 0 4-5 0-10-1-2-3-1-2 1zM861 1245l-1 4 0 4 3 4 2-1 1-9-1-2-2-2zM523 1247l-5 4-5 10-20 10-4 7-1 5 1 5 7 7 4 11 3 2 9 1 4 3 1-1 1-10 5-8 2-6-2-6-5-10 0-6 3-1 9 1 2-4-1-6-1-5-3-3-3 0zM819 1247l0 6 1 1 1-1 1-4-2-3zM486 1249l1 9 2 4 2-3-1-10-1-1-2 1zM389 1251l-2 3-6 21 0 10 1 8 5-12 5-24 0-4-2-3zM335 1261l-2 18-3 4-5 4-2 0-3-2 0-12-3-5-2-1-6-1-5 1-3 1-2 5-3 13 1 15 2 4 8 3 8 13 2-3 6-10 2-1 3 1 3 4 5 12 3 3 4-2 4-8 5 20 3 4 1-2 2-4 2-26-1-18 1-14 0-6-4-4-13-2-7-5zM187 1265l-4 4-1 4 5 16-2 10 0 2 8 8 6 10 6 2 7-2 4-6 12-10 6-14 5-5 0-5-2-3-6-2-8-7-2 0-4 2-4 12-3 5-3 1-3-4-5-14-5-4-6 0zM268 1269l-2 2-7 12-7 8 0 6 5 14 7 24 2 3 3-1 11-6 5-6-5-5-5-11-4-20 2-18-1-3-3 1zM534 1271l-2 8 1 8 2 4 3 1 1-1 1-6 0-8-2-6-3-1zM543 1301l-1 6 0 8 7 16 2 15 3 3 2-18 0-10-4-16-4-4-2-1zM475 1305l-2 6 0 8 3 5 3-1 2-4 0-6-3-8-2-1zM1034 1309l0 8 0 1 3 0 0-8-3-1zM400 1325l-1 6 1 4 1 1 0-1 2-4 0-4-2-3zM363 1393l-2 4 0 4 2 10 3 2 2-8 1-6-1-4-2-2zM253 1413l-3 3-3 11 1 12 2 3 1-1 2-6 2-20-1-2-1 0zM362 1482l-7 10-3 2-10 2-11-4-8 0-7 4-1 2 0 4 10 20 3-1 8-5 3 0 8 8 3-1 5-7 3-1 2 2 8 12 3 0 8-8 3-5 1-10 0-14-1-5-3-4-5-2-11 0zM553 1484l-3 2-2 6 1 24 2 7 3 2 2-1 6-13 2 3 2 10-2 4-4 6 2 5 5 1 8-2 8 3 19-6 3 3 3 14 2 3 3-1 3-4 0-14-1-6-3-6-1-4 1-4 3-3 6-1 3 1 5 5 7 12 1 8 2-8 2-36-2-8-2-2-3 0-10 5-17-2-8-3-5 0-3 2-5 4-3 1-6-5-5-2-8 0-10-1zM292 1490l-4 6-4 24 1 7 3 3 2 0 9-7 4-5 5-16-1-4-4-4-4-4-6-1zM179 1494l-3 4-1 4 0 12 2 6 3 4 3 3 3 0 2-4 2-7 1-16-3-6-2-2-6 1zM205 1494l-3 6 0 8 3 11 2 3 11-20 3 1 8 19 2 2 8-9 3 1 6 6 2 1 3-5 3-12 0-8-3-5-3-1-2 0-9 8-7-6-3-1-6 3-2 3-3 1 0 1-1-3-2-2-2-3-6-1zM207 1298l3 2 1 3-1 5-3 0-2-3-1-4 1-2zM704 1504l3 0 2 2 1 4 4 34 1 4 3 2 5 1 5-2 4-3 4-9 3-3 3 2 3 6 5 2 2-1 14-20 5-3 3 1 4 25 2 18-69 0-1-6-3-3-3 0-3 1-1 8-15 0-1-6-1-2-3-1-5 1-2 4-1 4-7 0 4-16 2-18 2-8 2-2 2 0 8 4 4 6 2 7 2-19 3-6 6-6zM906 1510l13 30 3 2 2-2 3 1 2 5 3 3 3 0 3-5 3-22 5-7 2-2 5 9 3 8 2 14 0 20-59 0 3-24-3-20 4-8zM1182 1514l3 0 3 2 2 6 4 24 1 18-37 0 2-24 2-12 1-3 3-1 3 1 5 11 3 3 4-23zM798 1521l3 1 2 5 4 11 0 10-1 16-18 0-1-16 1-10 4-10 5-6zM852 1525l2-1 5 4 3 6 3 11 3 4 3 0 2-3 3-8 3-4 2 0 3 2 3 9 0 19-46 0 0-16 1-10 4-8 4-4zM1010 1524l3 0 3 3 4 11 1 10-1 16-28 0 0-16 2-13 3-2 3 4 2 1 3-2 4-10zM1142 1540l3 4 2 20-10 0 0-12 4-10z" fill="#a5d7f0" fill-rule="evenodd"/>
<path transform="scale(.5)" d="M140 1205l1069 0 0 276-11 0-10 3-11-3-11 3-13-3-8 3-11-3-5 3-2 6 0 12 3 40 0 22-21 0 6-68-1-8-2-3-2-2-11 0-14-2-3 1-2 2-1 4 4 12 1 8 1 56-25 0 1-40 2-24-1-8-3-7-3-2-5-2-14 3-11-3-10 3-11-3-11 3-8-2-5 0-5 4-2 6 1 24 3 24 0 24-12 0 0-36 2-36 0-4-2-4-4-3-3 1-3 2-5 8-3 2-6-8-4-3-14-2-5 0-5 3-6 8-2 1-5-3-6-13-8 4-16 3-25-3-10 1-7 4-1 4-1 8 3 66-16 0 2-38 0-34-2-7-2-3-3-1-22 0-13 3-19-3-16 4-21-4-19 3-6 0-10-3-11 3-11-3-5 2-4 5-1 4 6 46 0 26-18 0 3-28 0-28 2-16 0-4-2-4-5-3-13 3-17 0-13-3-11 4-8-4-19-1-5 1-3 3-1 4 0 34 5 16 2 12 2 2 6-1 2 1 3 4 2 8-39 0 0-22 4-28 0-22-1-4-3-4-3-2-6-2-2 1-3 3-2 8 1 50-1 22-28 0 1-17 1-3 1-1 6 1 2-1 3-4 1-3 2-36-1-6-2-5-5-4-14-4-5 0-3 3-8 9-3 1-2-2-6-9-3-1-5-1-5 3-2 4-1 6 2 70-13 0 0-20 2-26-1-30-2-4-4-3-4 1-7 2-8-3-2 0-3 3-3 10 0 12 3 23 3 9 2-6 6-22 2-3 2 3 1 4 2 10 0 40-16 0 0-12-2-7-11 8-3 5-2 6-37 0-1-6-2-2-11-1-3 1-1 8-21 0-2-8-3-1-4 3-2 6-110 0-2-10-3-1-5 4-1 7-19 0-1-8-3-1-4 1-1 8-9 0 0-13 6-1 2-2 3-18 6-8 2-4 2-12-2-12-8-15-3-2-8 1 0-41 6 0 3-2 2-4 2-12-2-5-11 1 0-91 12-1 2 0 3-4 2-12 1-20 6-16 0-6-1-7-8 7-17 1 0-61zM755 1233l-2 4-9 6-1 4-1 6 2 5 6 3 5-1 4-5 1-12-2-8-3-2zM991 1233l-3 4-5 3-13 3-1 6 1 4 5 4 14 3 2 0 3-2 2-7 1-10-3-8-3 0zM862 1241l-3 2 0 10 1 3 3 3 2-1 2-5 0-6-2-5-2-1zM486 1243l-1 10 1 8 2 8-3 14 2 7 6 7 4 11 3 3 9 2 7 7 3 1 3-4 3-10 2-4 3-1 5 2 3 5 3 10 6 12 4 37 3 4 0-1 2-5 1-25 4-16 0-4-8-18-7-8-2-4-3-22-6-8-4-14-1-3-3-1-8 1-4 3-5 10-4 4-3 3-6 1-3-4-3-16-2-2-2 0zM818 1243l-2 4 1 8 3 2 2-1 1-11-1-2-2-1zM1112 1243l-2 6 2 6 2-2 1-4-1-4-2-2zM387 1245l-8 26-3 28 0 6 3 13 3 3 2-20 6-18 4-26 0-10-1-2-3-1zM454 1245l-2 4 0 4 2 5 3-1 1-4 0-4-1-3-3-1zM551 1245l-1 6 0 2 2 0 1-4-2-4zM658 1245l-1 4 1 4 0 1 2-3 1-4-3-3zM701 1245l0 9 3-2 0-7-3-2zM1087 1245l-1 4 2 6 2-6-2-6zM332 1247l-1 1-1 5 2 12 0 6-1 7-3 3-3 0-2-2-3-10-5-3-11-1-3 1-2 3-5 18 0 22-3 4-6 4-3 1-2-2-5-11-2-16 2-18-1-3-2-2-3 0-4 3-9 15-6 3-2 0-3-2-6-11-16-9-5 1-7 13-1 2-3 1-2-2-6-13-3-2-5-1-5 0-4 3-2 6 3 12 0 4-6 8-1 4 2 3 10 5 8 12 3 2 14 3 2-1 5-10 10-10 7-13 5-2 3 0 11 23 5 22 3 7 5 4 3-1 10-8 6-6 5-10 2-10 4-2 5 0 4 4 7 11 2-2 6-10 2-2 3 1 3 4 5 13 3 3 5 1 3 2 4 9 4 3 3-2 1-5 3-32-1-18 0-18-3-5-11-1-5-3-4-5-2-6-3-4zM788 1283l-1 8 3 2 2-6-2-5zM476 1301l-3 3-1 3 0 12 2 6 2 1 4-1 2-2 1-4-1-8-2-8-2-2-2 0zM1034 1305l-2 6 0 6 2 6 3 0 2-4 0-6-2-7-3-1zM830 1307l-1 8 1 4 1-2 2-6-3-5zM406 1311l-5 5-3 6-1 7 1 11 3 2 2-3 3-10 0-18zM983 1317l-2 4 2 4 2-4-2-4zM712 1319l0 5 3-1 0-5-3 0zM808 1337l1 5 3-1 0-4-3-1zM366 1389l-6 3-2 7 2 16 0 28 3 6 3-1 2-6 2-13 0-16 1-16-2-6-3-2zM292 1397l-2 4 0 10 1 4 2 5 3-15-1-6-2-3zM252 1405l-4 6-2 6-2 18 1 8 3 5 2 2 3-2 2-7 2-18 6-10 1-4-3-4-5-1-3 1zM359 1478l-7 11-2 2-6 1-19-3-16 4-13-7-3-1-3 1-3 6-2 14-5 14 1 12 4 13 3 2 8-15 8-10 5-12 3-3 3 1 2 3 4 9-1 6-5 8-1 4 1 4 5 4 3 0 1 0 1-4 2-12 4-6 5-3 3 0 3 5 5 11 3-1 4-10 4-4 2 2 6 10 2 3 3-2 8-10 4-7 2-16 0-12-3-6-3-3-16-5-3 0zM247 1490l-8 4-10-4-11 4-8-4-5 1-3 3-1 4-1 12 5 24 2 7 2-11 2-10 7-12 3 1 3 7 5 23 4-11 6-7 3 1 3 4 5 13 7-27 1-12-2-9-3-2-5 0zM178 1492l-4 4-1 4 0 16 3 8 10 13 2-4 3-9 1-12 0-12-1-5-2-3-3-2-6 1zM164 1534l-1 4 1 2 1-2-1-5zM462 1506l3 1 3 3 3 10 4 44-21 0 1-24 3-24 2-8zM701 1509l3-1 3 2 3 8 0 20-1 6-2 4-3 1-5 0-2-3-2-24 1-6 5-6zM621 1521l3-1 2 1 3 3 4 6 1 12-4 10-4 4-2 0-3-3-2-19 0-8 1-4zM948 1521l3 3 4 10 1 30-20 0 7-36 3-6 1 0zM1042 1523l3-1 3 3 3 7 2 12 1 20-17 0 2-30 3-10zM677 1524l3 0 3 2 3 4 3 20 5 2 2 2 0 10-8 0 0-10-2-2-9-2-3-2-1-12 1-6 2-4zM798 1525l4 3 3 10-1 26-13 0 0-26 2-7 4-5zM1013 1537l3 3 0 4-1 20-18 0 0-6 2-4 8-6 6-10zM852 1538l2 2 2 6 0 18-8 0 0-16 2-8zM908 1538l3 8 1 18-8 0 2-16 2-8zM1166 1538l2 8 0 18-5 0 0-20 2-4zM1185 1539l3 0 2 5 2 10 1 10-15 0 2-14 4-10zM766 1540l3 0 1 6 3 18-10 0 0-14 2-8zM594 1550l3 0 2 4 1 10-11 0 0-6 3-6z" fill="#c8e4f5" fill-rule="evenodd"/>
<path transform="scale(.5)" d="M140 1205l1069 0 0 274-11 0-10 2-11-2-11 2-11-2-10 2-11-2-6 3-2 4-1 10 2 46 0 22-13 0 3-70-1-8-4-5-13 0-14-2-5 1-3 2 0 6 4 10 1 8 0 58-19 0 1-66-2-10-3-6-8-3-14 2-11-2-10 2-14-2-8 2-11-2-5 2-5 4-3-1-3-2-5-3-5 2-6 6-3 2-10-8-16-2-6 1-8 7-2 1-4-2-3-8-1-27 0-20-1-4-2-2-2 4-1 6 2 34-2 4-3 4-5 3-13 1-19-2-16 1-6 2-3 4-2 10 3 68-13 0 2-36 0-38-1-6-5-4-5-1-19 0-16 3-16-3-16 2-24-3-19 4-13-3-14 2-8-2-5 1-8 5-7-5-4-2-11 3-19 0-13-3-11 1-27-2-5 2-4 3-2 4-1 4 1 14-2 22 5 20 0 18-16 0 1-18 4-20 0-34-2-6-5-5-6-3-5 1-4 3-3 6 1 52-1 24-23 0 1-10 2-3 8-6 3-9 1-40-1-6-3-4-5-3-19-4-4 3-7 7-3 0-6-7-4-2-6-1-5 2-3 5-2 6 2 72-9 0 1-44-1-34-2-4-5-3-11 1-8-2-2 0-4 4-4 6-1 6 3 36 0 8-2 4-12 14-3 8-23 0-2-16 2-14 3-4 2 2 6 13 2 1 3-2 13-24 4-22-2-10-3-6-15-7-5-6 1-6 4-10 3-10 1-14 0-34-2-6-2-1-2-1-4 0-3 2-3 6 1 20-1 20 0 36-3 11-2 4-4 2-3 1-16-2-21 1-9-4-3-4 0-47 2-32-1-8-3-2-3 2-2 12-1 73-4 26-5 12-1 8 2 40-23 0-1-28 4-28 1-12-1-4-2-4-4-3-3 0-11 5-10-3-11 3-11-2-5 2-2 2-2 12 2 28 0 32-10 0 5-54-2-16-2-4-5-2-6 0-5 2-3 4-2 6-1 22-2 2-5-2-1-4 0-20-6-22 0-13 2-20-2-14-1-24-3-1-8 5-6 1 0-84 13 1 6 2 3 12 3 2 2 0 1-2 1-4-1-4-1-2-6-4-1-6 4-20 0-14 6-14 0-4-3-29-2 0-2 3-2 12-4 6-6 3-11 1 0-60zM754 1221l-2 4-3 12-7 6-1 8 1 6 5 4 5 1 5-3 4-8 2-16-3-12-2-2-3-1zM987 1221l-3 4-2 10-1 2-8 0-3 1-4 5 0 4 2 6 4 4 14 5 5-1 3-1 2-3 4-17 3-5-2-8-3-4-4-3-5 1zM386 1239l-2 4-2 14-5 14-3 30 5 26 3 4 3-6 2-26 7-14 0-16 2-14-1-13-5-5-3 1zM485 1239l-1 8 1 22-2 16 1 8 8 7 5 12 11 5 8 6 5 0 3-2 6-10 2-1 3 3 11 22 3 38 2 4 3 2 2-2 3-8 0-24 1-10 2-3 2-3 8-2 3-4-1-4-2-2-2-1-6 1-2-1-3-4-5-12-8-9-1-6-2-18-6-8-5-18-2-2-9-1-2-1-5 2-3 4-5 14-3 4-3 1-3-1-2-4-2-16-4-3-2-1zM549 1239l-2 4 0 8 1 6 3 1 3-2 1-3 1-8-1-4-4-3zM658 1239l-3 4 0 8 1 3 2 3 3-1 2-5 0-8-2-3-3-2zM701 1239l-2 4 1 8 1 6 3-2 2-12-2-4-3 0zM818 1239l-3 4 1 12 1 3 2 1 3-1 2-5 1-10-3-5-2 0zM860 1239l-2 4 0 12 2 4 3 2 3-2 2-6 0-10-3-4-2-2-3 2zM1088 1239l-4 4 0 6 1 7 3 2 1-1 2-4 1-10-1-4-3 0zM1110 1239l-2 4 1 8 1 4 2 3 1-1 2-1 1-3 1-8-1-4-4-3zM331 1241l-3 2 0 4 0 8 3 14-3 8-3 0-3-8-5-4-13-1-5 2-3 4-4 13-1 22-3 6-3 3-3 0-2-2-3-7-2-16 2-20-2-4-3-1-8 5-8 11-6 3-3-2-8-10-16-8-3 0-4 2-6 12-3 2-2-3-3-7-4-4-7-3-5 0-4 3-4 6-1 4 1 12-8 10 0 6 2 4 3 1 8 1 5 3 8 11 3 2 8 2 8 4 3-3 2-7 3-6 8-7 6-10 2-3 3 1 3 2 10 17 6 27 8 21 3 3 2-1 5-18 11-15 7-17 4-4 3 0 3 2 8 14 2-1 6-11 2-2 3 1 3 4 5 14 3 4 5 3 8 11 3 1 3-1 2-9 4-36-2-16 1-18-2-4-3-2-11-1-5-3-2-4-4-15-3-1-2 0zM454 1241l-2 1-2 3 0 8 3 6 4 1 3-5 0-8-1-4-5-2zM250 1243l-1 6 0 6 1 3 3-1 1-6 0-6-1-3-3 0zM787 1279l-2 4 0 6 2 8 3 0 3-6 0-8-2-4-4 0zM408 1299l-5 5-5 11-3 10-1 8 1 6 3 6 3 0 2-2 3-5 4-21 7-12-1-4-2-2-5 0zM474 1299l-2 2-2 6 0 14 3 6 3 2 5-2 3-6 0-10-3-12-3-1-2 0zM830 1301l-2 2-1 8 1 8 2 4 3-1 1-9-1-10-3-2zM1033 1303l-2 6 0 10 1 4 2 2 3 1 3-5 1-8-3-8-1-2-3-1zM896 1311l-2 4 1 7 2 3 3 0 3-4 0-4-3-6-3-1zM983 1313l-2 3-1 5 1 5 2 2 3-3 1-4-1-5-3-3zM712 1315l-1 8 1 4 3 0 2-8-2-5-3 1zM765 1319l0 6 1 1 3-1 0-6-3-1zM808 1333l-2 4 1 4 2 4 3 0 2-4 0-4-2-4-3-1zM581 1391l-4 4-1 6 5 12 1 16 1 3 3 0 3-2 2-7 0-10-5-19-3-3-2 0zM251 1399l-3 5-4 7-2 22 1 14 5 7 2 1 3-1 4-7 1-4 0-16 3-5 5-5 2-6 0-6-2-4-5-2-8 0zM408 1407l-3 4 0 6 4 15 2 3 3-6 0-14-2-8-3 0zM1120 1409l-1 6 1 14-2 14 2 6 3 1 3-7 3-14-3-16-3-5zM174 1419l-2 1-1 3-1 8 2 7 3-1 2-10-2-8zM560 1421l-1 4 1 6 2 5 2 1 2-4 1-6-3-6-2-1zM648 1494l2 7 3 20 2 23 0 20-14 0 3-28 0-28 1-9 2-3zM970 1495l3 1 0 2 0 20 3 22 0 24-9 0 0-28 3-40zM462 1511l3 0 2 3 3 6 2 44-16 0 1-20 2-22 1-6 2-4zM218 1512l3 1 3 9 2 42-15 0 1-38 1-6 3-6zM312 1513l3 1 2 4 0 4-2 4-5 6-3 14-3 0-3-1-2-3 0-4 2-6 6-6 5-12zM701 1512l3 0 3 3 1 9 0 14-1 3-2 3-4 0-1-2-3-10 0-12 3-6zM411 1514l3 10-1 40-9 0 3-40 3-8zM336 1525l4 3 3 8-1 8-3 5-3 1-3-1-2-3-2-4 1-10 2-4 3-2zM626 1525l4 5 2 8-2 8-1 2-3 2-3-2-2-10 1-8 2-4 1 0zM239 1526l3 2 1 2 3 10-1 10-3 8-3 1-2-3-4-10 1-10 4-8zM948 1527l3 2 3 9 1 26-15 0 4-28 2-7 1-1zM172 1529l3 0 3 5 1 6-1 4-3 3-3-1-1-8 1-8zM677 1529l3-1 3 1 1 3 1 8-1 6-4 1-3-1-1-2-1-8 2-6zM798 1528l3 2 2 10-1 24-9 0-1-22 2-8 2-4zM154 1530l2 1 1 3 0 8-1 5-2 0-4-3 0-6 2-6zM1045 1531l3 2 2 9 2 22-12 0 1-24 1-5 2-3zM1185 1550l3-1 0 3 3 12-10 0 1-8 3-6zM162 1550l5 0 3 2 0 12-11 0 1-12zM312 1550l5 1 3 3 2 4 1 6-14 0 1-12zM140 1560l1 4-4 0 0-6z" fill="#fffaa0" fill-rule="evenodd"/>
<path transform="scale(.5)" d="M927 1219l8 1 6 3 5 6 2 6 11 1 3 2 4 15 3 4 20 6 5-1 2-3 4-13 2-5 3-2 8-2 3-2 3-8 5-4 2 0 3 2 6 10 2 0 2-4 3-4 3-1 3-1 5 4 3 6 21 2 4 2 2 16 2 4 3 1 3-1 1-2 3-16 1-2 3-2 3 0 3 2 3 16 2 3 2 2 3-1 2-4 3-17 3-1 8 3 14-4 10 4 11-5 4-8 4-4 3 0 3 2 5 10 3 1 21 0 0 241-11 0-10 2-11-2-11 2-11-2-10 1-11-1-6 1-2 2-2 4-1 6 1 74-7 0 1-48 1-26-1-6-3-4-5-2-11 1-16-2-6 2-2 3 0 6 5 12 0 6 0 58-15 0 0-70-2-8-4-6-8-3-14 2-11-2-10 1-11-1-11 1-11-1-10 3-11-3-5 2-9 6-10-7-16-1-6 1-8 6-2 0-3-3-2-8-1-46-3-7-2-1-3 4-1 6 0 40-3 7-4 2-5 1-14 0-16-2-16 1-7 4-3 4-1 3-7-9-3-2-6-1-35 2-16-2-13 2-30-3-13 3-16-2-14 1-8-1-13 3-8-4-3-1-11 4-21 0-19-7-3 0-5 3-6 1-18-1-6 3-8 8-13-9-8-1-8 6-2 6 2 16-1 60-18 0 2-8 8-8 3-8 2-48 0-4-4-4-6-3-19-4-5 1-8 7-3-1-8-6-8-1-7 3-6 8 3 20 0 56-5 0 1-60 1-14-2-6-6-6-22-3-5 2-8 9-6-6-12-7-4-4 0-4 5-20 1-18-1-34-2-6-3-2-5 0-5 1-3 2-1 3 1 22-3 20 0 40-2 9-3 3-3 0-11-1-26 1-6-3-2-2-1-7 0-34 1-42-3-8-3-2-3 0-2 2-1 6-2 24-2 14 0 36-5 15 3 10 0 6-1 4-5 8-1 8 0 44-13 0-3-18-1-12 7-42-1-4-2-2-11-9-11 8-10-1-11 3-16-1-11 0-16-1-8 4-3-1-2-4-4-13 0-8 2-8 4-11 8 3 3-1 3-5 1-8 0-12-2-8-2-2-3 1-3 5-5 14-2 0-3-8-3-28-2-1-10 9-7 4 0-78 8 1 6 2 2 3 6 12 3 1 2-1 4-6 1-6-2-6-5-8-1-4 3-7 3-1 5 3 14 1 3 2 7 11 11 4 8 6 3 0 4-13 3-6 8-6 6-11 3 1 2 2 9 13 3 7 7 34 1 16 4 14 0 2-4 4-14 1-5 5-5 10 0 38 5 11 3 4 2 1 10-16 1-19 3-3 2-1 6 1-1-36 2-4 7-9 1-19 1-6 11-21 7-15 4-1 3 2 5 11 3 3 2-1 6-11 2-3 3 2 8 19 14 19 2 2 3-1 3-1 2-4 3-32 3-16-3-16 1-16-1-4-3-3-2-1-11 0-5-5-2-7 0-8 2-3 2-1 24-3 8 3 4 4 1 12-6 16-1 16-3 16 8 32 3 4 3-2 3-8 0-20 2-9 3-4 5-3 1-2-3-22 3-28 10-16 2-2 5 2 3 4 2 6 6 4 3 9 3 3 5-8 3-2 3 0 2 4 3 12 3 4 2 1 4-1 3-4 1-18 3-2 5-1 6 0 2 1 3 3 1 5 1 26-3 20-1 2-6 4-3 6-1 14 1 10 3 3 5 1 3-2 4-4 1-6-1-16 2-3 2 1 4 10 4 4 10 4 9 7 3 0 4-1 7-7 2 0 9 11 3 6 2 10 1 28 2 6 2 3 3 1 2 0 3-3 2-7 0-28 1-8 2-4 11-4 2-6-1-6-4-3-8-1-2-1-7-13-7-10-2-6-1-20 10-6 2-4 2-12 3-4 10 0 33 4 2-1 11-5 3-7 5-5 3 2 3 10 5 5 3 1 8-4 2 1 4 15 2 5 2 2 3-1 2-4 3-16 6-3 8 0 2-1 5-8 4-4 2 1 2 5 3 10 1 14 2 6 3-1 1-3 3-16 4-3 8 0 19 1 0 12 2 8 3 5 6 1 5 0 4-4 7-21 3-1 10 1 11-2 11 0 8 0 3 2 1 3 2 16 2 3 3 1 2-1 2-3 4-18 5-4 3-8 5-4 3 0 2 2 3 4 3 6 3 4 3 18 2 4 3 1 2-1 3-4 1-10 0-10 4-13 3-1 3 2 5 10 22 1 2-1 3-7 5-5 10-4zM786 1277l-3 6 1 10 3 8 3 0 4-6 1-12-2-6-3-1-3 0zM401 1295l-1 2-6 22-3 12 1 6 3 8 3 4 3 0 2-3 3-4 5-21 8-12 2-8-2-7-16 1zM830 1297l-2 1-2 3-1 8 2 12 3 6 3-1 1-3 2-12-2-10-1-2-3-2zM1032 1301l-2 8 0 12 2 6 2 2 3-1 4-5 1-8-2-10-3-4-3-1zM894 1307l-2 10 1 6 2 4 2 1 3 0 5-5 1-6-3-7-6-5-2 2zM983 1311l-3 4-1 8 2 6 2 1 2-1 2-4 1-6-2-6-3-2zM711 1313l-2 5 0 7 3 5 3-1 3-6 0-6-3-5-3 0zM765 1315l-2 4 0 6 3 5 3-1 2-6 0-4-2-4-3 0zM807 1331l-2 6 1 6 3 5 3 0 3-5 0-6-3-6-3-1zM577 1389l-4 4-1 6 4 20-1 15-3-2-1-11-4-6-11-6-2 0-1 4 5 26 2 4 4 3 11-3 6 3 2-1 6-6 4-8 2-6 0-10-3-12-5-12-4-3-5 1zM392 1393l1 6 0-4 0-2zM679 1395l0 6 0 6 1 2 3-4 0-9-3-2zM410 1401l-4 2-3 2-2 6 6 30 2 4 2 1 3-5 1-6 2-16-2-12-1-3-3-3zM1121 1405l-3 4-2 4-1 30 3 9 2 3 3 0 3-3 2-5 4-12 0-6-4-20-2-3-3-1zM519 1413l-1 8 1 5 1-3 0-4-1-6zM1003 1413l-1 6 0 7 3-3 1-6-1-5zM465 1415l0 11 2-5 0-4-2-3zM239 1225l6 3 4 7-2 8 0 8 1 6 2 3 3 0 1-3 2-18 2-2 3-1 13 4 4 3 4 9 6 3 3-2 3-10 3-4 7-3 11 0 8 3 2 2 3 29-3 2-5-7-5-1-14-2-4 1-2 4-4 14-2 24-4 6-3 0-3-4-2-8-1-10 2-22-1-4-3-2-2 1-7 3-4 4-5 8-3 2-3 1-2-2-7-9-18-8-5 1-2 1-6 12-3 1-7-11-4-2-8-2-5 1-8 8-3 1-3-8-2-10 1-10 4-5 3-2 11 3 13-3 24 4 6 0 6-5 2-6 2-4zM140 1236l8 2 6 3 1 4 1 6-2 6-3 4-6 2-8 1 0-28zM500 1240l5 2 1 3 0 8-3 5-3 1-3-1-1-3 0-10 2-4zM538 1243l2-1 3 2 1 9-1 6-3 0-2-5-1-11zM822 1490l5 74-10 0 2-32 0-32 1-5 2-3zM540 1492l3 8-1 8-2 4-2-6 0-6 2-6zM648 1505l2 10 4 49-11 0 3-26 0-22 2-10zM390 1510l3 12-1 14-2 4-8 8-3 2-3-1 0-1 1-10 8-14 4-12zM218 1516l3 1 1 7-1 18 1 22-8 0 1-20-1-18 1-7 3-3zM465 1515l3 7 0 16 3 26-13 0 3-42 1-6 2 0zM701 1516l3 0 3 8 0 8-3 7-3-1-2-8-1-8 2-4zM336 1531l3 2 0 5 0 3-3 3-3-2 0-4 0-4 2-2zM626 1531l3 3 0 4 0 2-3 4-2-6 1-6zM970 1531l3-1 1 8 0 26-4 0 0-32zM239 1532l3 2 1 4 0 6-2 4-2 1-2-4-1-7 2-4zM680 1532l3 4 0 4-1 2-2 1-2-3-1-4 1-2zM798 1533l3 3 1 8-1 10-2 10-2 0-2-8-1-10 1-8 2-4zM948 1532l3 3 1 5 1 24-11 0 3-22 3-8zM1045 1542l3 3 1 19-7 0 3-20zM540 1545l3 5 2 14-10 0 1-12 2-5 1-1zM164 1559l2 5-3 0 1-4zM315 1558l2 1 2 5-6 0 1-4z" fill="#ffeb50" fill-rule="evenodd"/>
<path transform="scale(.5)" d="M927 1229l3 0 10 8 19 5 3 4 3 8 2 4 6 2 16 5 5-1 3-3 3-12 3-6 5-2 8 1 8-5 13 2 11-2 27 4 2 2 2 2 4 13 2 3 3 1 3-1 1-2 3-14 4-4 3-1 2 3 4 14 2 3 2 1 3 0 3-3 3-11 2-4 8 1 8-4 6 0 10 4 11-4 11-3 11 3 21 0 0 235-21 1-11-1-14 1-35-1-8 1-18 0-19-1-8 3-3 4-1 4 6 13 2 5-2 20 0 40-10 0 0-74-1-6-5-6-5-2-5-1-14 1-11-1-10 1-33-1-10 2-11-2-5 1-9 4-10-4-16-1-6 1-8 4-2 0-3-9-2-48-4-7-2-1-4 4-2 8 0 42-2 4-3 3-5 0-41-1-8 2-8 3-13-5-38 2-16-2-16 1-13 0-14-4-13 5-19-2-11 1-11-1-8 2-2 0-8-4-3-1-11 4-19 0-10-3-5-4-1-20 7-20-1-16-2-10-5-12-4-5-5-1-7 2-5 4-5 11-2 1-8-3-3 2-3 7 0 6 6 16 0 27 2 4 8-6 6 0 2 2 3 3 2 6-2 4-3 1-5 1-11-3-2 1-14 10-2-1-17-8-2 0-11 8-3 0-8-2-10 0-14-3-3 1-5 3-8-2-11-2-5 1-8 3-8-3-19-5-5 1-11 8-14-7-4-4 4-36-1-44-4-6-16-2-2-4-1-8 1-4 7-8 2-4 2-32 2-8 2-5 3 2 3 6 6 27 2 3 5-2 3 1 5 6 3 2 3-1 5-7 3-6 3-14 2-5 10-9 2-24-1-7-3-1-6 10-4 2-3 0-5-4-5-14-1-8 3-18 2-6 6-3 2-1 6 1 5 4 4 5 5 12 2 1 8-12 3 0 5 12 5 5 3 0 4-4 4-16 2-4 6-2 3 0 2 2 3 4 1 10-2 28-2 6-8 7-2 5-1 16 2 12 1 3 3 1 8-1 4-5 4-8 3-2 13 4 8 5 6 2 5 0 6-2 2-1 8 7 3 5 1 8 0 20 1 10 3 10 3 3 3 1 2 0 5-4 2-6 1-14-1-20 1-6 3-4 10-4 2-6-1-6-3-6-3-2-8 0-2-2-6-12-7-8-2-6-1-8 1-8 1-2 8-7 5-13 3-4 25 1 16 3 21-9 14 9 8-2 2 4 4 10 4 5 3-1 3-4 2-10 3-5 3-1 8 0 11-5 2 1 3 4 3 16 2 4 3-1 2-5 3-14 3-2 6 0 16 3 2 3 3 12 3 4 5 3 5 1 6-3 2-3 6-16 3-3 10 1 11-2 13 0 6 2 3 3 2 16 3 2 5 0 3-3 3-14 1-4 4-2 8-3 8 2 4 3 2 4 2 14 3 4 3 0 2 0 3-4 3-18 2-4 3 0 13 2 19-1 11-3 7-6zM784 1275l-2 8 2 16 3 6 3 1 3-3 3-10 0-14-3-4-6-1-2 1zM826 1295l-2 8 1 16 3 8 2 3 3-1 3-10 1-16-1-4-3-4-3-1-2 0zM1005 1297l-3 1-1 5 1 4 3 1 2-5-2-6zM1032 1299l-3 4-1 6 0 10 1 8 3 4 2 0 6-3 4-7-2-12-2-6-3-4-3-1-2 1zM894 1303l-2 4-2 8 2 12 3 3 2 1 6-2 2-2 3-6-2-10-6-8-3-1-2 0zM982 1309l-4 8 0 10 3 5 2 0 3-1 3-6 0-8-2-6-4-3zM711 1311l-2 6 0 8 3 7 4-1 3-6 0-8-2-6-2-1-3 0zM764 1313l-3 6 0 8 2 5 3 1 3-1 3-5 1-8-3-6-1-1-3 0zM427 1315l1 4 2 4 3 2 3 0 0-4-1-4-2-2-3-1-3 1zM1177 1317l-4 2-1 4 5 5 5 2 3-1 3-3 0-5 0-2-3-2-6 0zM806 1329l-2 8 1 8 4 5 3 0 2-2 2-7-1-8-3-5-3 0-3 1zM389 1385l-2 6 1 8 2 7 8 10 3 7 2 10 1 22 2 5 3 0 2-3 4-8 3-16 1-18-2-13-3-5-3-1-8 2-2 0-6-12-2-2-3 0zM679 1389l-2 3-1 5 0 12 1 6 3 5 3-1 2-12 1-10-3-8-3-1zM512 1397l-1 8 5 26 3 8 2 0 3-12 0-18-3-8-2-4-3-1-3 0zM465 1399l-3 4 0 4-1 20 3 10 1 2 3 0 3-8 0-16-2-12-1-2-3-2zM980 1403l-2 6 0 8 3 8 2-1 2-7 0-8-2-6-2 0zM1119 1403l-3 4-2 6-2 30 1 6 3 6 4 5 3 0 3-2 4-7 5-16 1-6-8-24-2-3-6 1zM615 1405l-2 4 0 6 2 4 3 0 2-4 0-6-2-4-3 0zM916 1405l-2 4 0 4 2 5 3 1 2-4 1-4-3-6-3 0zM1002 1407l-3 8 0 14 1 5 2 6 3-1 4-26-3-6-1-1-3 1zM1098 1407l-3 6 1 8 3 4 3 0 1-2 2-6 0-6-3-6-3 1zM239 1236l6 4 2 19 3 4 3 0 3-4 2-14 3-4 5-1 7 3 4 8 1 4-1 2-14 8-9 10-4 2-8-9-8-3-11-6-8 2-2 2-3 8-3 2-7-10-12-4-2 0-3 1-8 6-3-1-3-6 0-8 2-8 4-3 11 2 8-2 5 0 4 1 4 5 3 1 5-4 11 1 12-7zM309 1239l8 0 3 1 3 3 2 6 0 10-1 4-1 1-22-3-3-2-2-2 0-8 3-6 2-2 6-2zM140 1240l5 1 6 2 2 4 0 6-1 4-4 3-11 2 0-22zM347 1241l21 0 8 2 2 4 1 8-6 16-1 18-1 4-3 3-3-7 1-16-1-6-5-4-13-2-4-4-2-4 0-6 2-4 2-2zM500 1246l3 3-1 4-2 2-1-2 0-6zM282 1259l8 2 2 4-3 20-1 16-3 6-3 1-2-3-2-10-1-8 4-26zM242 1312l8 4 3 4 2 7 5 32-2 20-1 4-9 5-9 11-8 2 0 4 6 18 0 28 6 14-2 11-2 2-2 1-8 1-11 4-11 0-11-4-8 3-4 1-5-2-4-4-3-1-5 1-3-1-2-10 2-10 3-2 5 2 3-2 5-12 2-12-1-14-3-8-3-3-4 1-7 10-2-3-1-19 6-16 0-5-3-3-3 0-5 12-11 15-3 3-5 3 0-73 6 1 5 2 3 3 5 12 3 3 3 0 5-4 4-9-1-8-3-10 0-2 2-2 11-2 6 0 10 13 11 4 8 10 3 1 2-6 5-16 4-4 2-1 3 1 2 2 1 18 2 8 3-10 0-22zM214 1369l-1 4 0 4 2 4 3 0 2-2 1-4-1-4-2-3-3 0zM301 1317l3-1 3 2 5 12 3 4 2-2 7-13 1-1 3 1 15 38 0 22 1 5 6 8 3 17-1 8-3 14 0 40-2 9-3 1-21-1-16 1-4-1-2-4-1-31 0-50-1-6-3-4-11-4-1-18 2-12 12-30 2-4zM280 1387l2-2 2 4 0 16-2 13-2 2-3-2-2-9 1-14 3-8zM269 1439l5 2 3 2 1 6-2 14 0 6-3 7-4 3-5 1-6-2-3-5-1-6 1-6 9-12 4-10zM266 1513l3 4 1 11 0 16-2 8-2 2-2-2-3-6-1-8 1-13 3-8 2-3zM701 1522l3 2 0 6-3 0 0-6zM387 1528l2 2-1 6-4 3-2-1 5-10zM798 1541l0 5 0-4zM948 1540l3 8 0 16-6 0 1-15 2-7zM822 1546l3 18-6 0 1-14 2-4zM465 1547l3 7 1 10-8 0 1-12 0-3 2-1zM648 1547l2 1 2 16-7 0 3-16zM503 1553l2-1 1 2 1 10-12 0 2-6 5-4z" fill="#ffd728" fill-rule="evenodd"/>
<path transform="scale(.5)" d="M927 1237l13 4 17 3 2 2 4 9 4 4 22 7 5 0 3-1 1-2 3-14 4-5 3 0 8 3 10-6 14 1 13-2 14 2 9 5 7 14 5 3 3 0 2-3 3-14 3-4 3 0 1 2 5 14 2 3 2 1 6-2 5-13 3-1 5 1 11-6 5 1 8 5 8-5 8-2 27 2 11 0 0 230-70 0-8-1-3-1-1-2 0-4 11-26 1-8-1-8-4-10-3-13-3-2-5 1-5 2-8 10-6-9-2-1-3 1-4 3-2 6-1 8 2 8 2 5 3 1 5 0 3 2 4 18 6 12 0 4-2 2-5 2-30 0-5 1-6 3-2 1-8-4-8-1-68 0-10 1-11-1-14 3-8-2-18-2-14 5-2-3-1-3-3-52-3-6-2-2-2 0-3 1-2 3-2 8-1 44 0 4-3 3-5 0-8-1-25 0-24 2-16-2-35 1-16-1-29 0-5-2-3-2 0-2 1-10-1-16 0-24 1-2 5-4 1-4-1-8-4-3-2 1-1 2-2 10-8-3-3 1-2 4 0 4 4 8 2 8-1 26 1 10-2 4-5 3-5 0-13-1-22 0-11 1-5-3-2-2-1-10-2-2-8-4 2-12 6-10 2-6 1-6-1-6-2-3-3 1-6 10-5 3-2 0-2-19-1-4-3-1-3 1-3 2-2 6 0 6 3 7 2 2 7 1 0 22 2 5 8 3 1 14-4 3-5 2-18-1-7-2-2-4 2-8-1-10 4-20-5-28-6-12-5-6-5-1-9 2-2 0-2-3-1-4-2-34 2-4 3-2 8-2 1-2 2-6-1-8-5-8-3-2-8-1-2-3-6-10-6-8-2-6 0-8 1-6 8-8 5-11 2-3 11 1 11-2 13 4 6 1 14-8 7-2 4 2 7 7 3 1 5-2 3 1 7 13 3 3 3 0 4-5 4-14 3-1 8 0 5-4 6-1 2 1 2 3 4 16 2 3 3 0 2-3 4-16 2-2 6-1 16 6 2 5 3 8 3 4 5 2 5 1 6-2 2-3 6-14 3-4 10 0 11-2 11 0 5 1 3 1 2 6 3 14 6 2 2-1 3-3 3-14 2-4 6-3 8-1 5 2 4 2 1 5 3 14 3 2 3 1 2 0 4-4 3-18 1-2 3-2 19 3 31-5zM782 1273l-2 8 2 18 3 8 2 3 3 1 3-1 3-9 2-24-3-4-5-1-5 0zM825 1291l-2 4-1 6 2 20 4 9 2 3 3-1 3-4 2-9-1-20-1-5-3-3-5-1-3 1zM1001 1293l-2 6 0 8 3 4 3 2 3-2 2-6 0-6-2-5-3-2-3 0zM1031 1297l-3 4-1 6-1 16 1 8 2 4 3 0 8-4 3-4 2-4-1-10-4-13-3-3-3-1-2 1zM892 1299l-2 6-1 8 0 10 1 6 2 3 3 2 5-1 6-2 3-4 1-4-1-10-6-11-6-4-2 0zM981 1307l-4 10 0 10 1 4 3 3 2 0 3-1 3-6 1-10-2-8-2-3-3-1zM711 1309l-3 8 0 8 1 6 3 4 4-2 3-6 1-10-2-7-3-3-3 1zM766 1309l-3 3-3 5-1 10 1 5 3 4 3 1 3-1 4-9 1-10-3-7-2-1-3 0zM1169 1315l-1 2-1 4 4 8 8 4 6 0 4-4 2-4 1-4-2-4-2-2-6-2-11 2zM805 1327l-3 8 2 10 2 5 3 2 3 1 2-2 3-4 1-4-1-10-2-4-3-3-6 0zM678 1385l-3 6-1 10 0 12 3 16-1 18 1 6 3 2 3 0 2-3 1-7 2-46-3-12-2-3-3 0zM979 1397l-3 8-1 14 3 12 3 2 2 0 4-10 1-14-2-10-3-3-2 0zM914 1401l-2 2-1 4 1 8 4 8 3 2 3-1 2-7 0-10-2-4-3-2-3 0zM1001 1403l-3 6-2 10 1 20 2 8 2 4 1 2 3 1 3-2 1-5 0-16 2-20-3-7-3-2-3 0zM769 1405l-6 12-3 8 2 8 1 2 3 1 4-3 8-20-1-4-6-5zM1188 1409l-5 6-2 10 1 7 3 3 3 0 3-4 7-18-2-5-6 0zM841 1411l0 2 3 2 0-4-3 0zM872 1411l-1 4 2 4 3-3 0-3-1-2-2-1zM939 1411l0 2 1 3 1-3-1-3zM959 1421l-3 4-1 6 2 5 2 1 3 0 2-4 1-6-3-5-3-1zM656 1423l-1 4 0 6 1 3 2 1 3-1 3-5 0-4-3-5-3-1zM234 1241l5-2 3 1 2 3 2 12-1 10-8 0-6-3-5-5-3 0-8 0-2-2 1-4 3-4 9 0 8-6zM307 1241l8-1 6 3 2 6 1 6-1 5-3 2-13-1-7-4-2-4 1-6 3-4 4-2zM409 1241l5-1 5 3 3 2 3 8 2 10-1 4-9 6-3 12-3 2-2-1-3-3-6-16 2-18 3-6 3-2zM140 1242l5 1 4 2 2 4 0 4-2 4-3 2-9 2 0-19zM175 1243l11 2 8-3 5 0 3 1 9 16-1 7-3 3-5-6-16-6-8 5-3 1-3-1-1-5-1-6 2-6 3-2zM264 1242l4 1 3 2 3 4 0 4-2 4-11 7-3 1-1-4 1-12 3-6zM347 1243l5-1 16 2 7 3 1 4 0 6-5 11-3 2-1-3-6-6-3-1-8 1-3-1-3-3-1-8 1-4 2-2zM470 1242l6 0 2 2 2 5 1 8-4 28-1 3-8 4-2 3 0 30 2 13 14-5 8-10 5-2 8 1 10 7 11 3 6 3 8-1 2 3 1 2 1 8-1 16 0 10 2 10 4 10-3 14 0 10 1 4 4 8 1 6-1 22 1 12-7 8-3 1-5-2-9-7 2-48-2-20-2-7-3-4-10-6-3 1-7 14-7 6-2 6 3 16 0 18 2 9 3 0 3-5-1-22 2-8 1-1 3-1 3 5 5 25-2 14 1 6-2 4-5 4-11-1-10 2-11-3-4-4 0-22 2-20-1-20-3-15-2-6-3-2-5 8-2 7 0 30 3 22 0 16-1 4-6 2-10 0-11 2-15-4-2-2-1-2 3-12 2-22 1-22-2-14-2-5-3-3-3-2-6 0-5-8-2-1-5-1-6 1-2 1-1 12 1 10 2 8 3 6 8 12 1 4 0 8-3 16 1 12-2 4-5 4-9-2-6-4 2-14 1-28-2-42-2-4-16-4-2-4 1-6 7-12 0-24 2-14 2-4 3 1 1 3 7 35 3 3 8-1 5 3 3 1 3-2 5-7 3-8 5-16 3-4 5-1 11 9 5 2 2-2 0-6-2-7-2-4-6-5-2-4 2-20-1-12 12-17 3 0 4 7 4 4 5 2 3 0 2-4 3-14 3-6zM440 1407l-3 4 0 6 2 4 2 1 3 0 3-5 1-6-2-4-2-1-3 1zM285 1264l3 1 1 4-2 16 0 12-2 7-3 0 0-1-2-4-1-6 1-12 2-14 2-2zM250 1267l6 0-3 6-3 0-2-6zM368 1276l2 7-1 4-1 1 0-1 0-10zM180 1317l6 1 10 13 11 4 4 4 4 10 3 1 3-4 3-17 2-6 3-2 2 0 3 6 2 22 1 3 2 2 3-3 1-4 4-26 1-1 2 0 3 5 1 4 2 14 0 16-2 14-4 5-8 1-5 8-3 0-8 0-2-2-1-16-2-6-3-3-3 0-3 3-3 6-1 8 2 6 3 3 10 2 1 1 0 20 8 14 2 10-2 18-7 10-1 10-1 5-4 4-4 1-5 0-8-5-6-1-10 5-3 0-3-4 0-15 4-30-1-18-2-8-3-4-3-1-8 0 0-5 3-12 1-6-2-6-7-10-1-2 8-10 3-6 1-6 0-14 3-4 4-2zM195 1401l-2 4 0 6 3 4 6 1 1-5-1-6-3-4-3-1zM204 1421l1 9 2 7 3 1 3-5 1-6-2-4-2-2-3-1-2 0zM301 1319l3-1 3 3 5 13 3 4 2-2 6-12 2-3 3 2 3 8 7 28-1 20-2 4-4 3-6-1-8-4-2 2-3 12 0 12 2 8 4 6 3 12 2 3 2 1 4-4 2-8-1-2-2-2-7-2-1-2 0-8 3-6 2-3 3 1 3 5 2 11 3 1 4-5 2-12 2-4 3 1 1 1 2 4 0 8 0 6-4 8-2 6 1 36-1 7-2 2-3 0-4 0-3-3-2-12-2-2-3-1-2 0-3 3-1 10-3 5-4 1-5 1-3-2-1-3-1-6 0-74-1-6-2-3-10-7-2-10 1-8 4-16 7-19 2-5zM140 1334l5 2 4 3 5 14 4 8-4 16-9 16-3 4-5 3 0-66zM280 1401l0 6 0-6zM264 1457l3 0 2 6 0 6-3 5-2 1-3 0-3-6 0-7 5-5zM1072 1497l3 3 1 6-4 18 1 18-1 22-1-20 1-20-3-16 0-6 2-4z" fill="#ffb400" fill-rule="evenodd"/>
<path transform="scale(.5)" d="M239 1241l4 2 1 6 0 10-2 4-3 1-5-2-4-3-3-6 3-6 3-4 6-2zM688 1241l3 0 3 2 4 18 3 3 3 0 3-3 2-14 3-4 3-1 5 1 6 4 8 4 5 12 5 3 6 1 5 0 5-4 7-14 2-2 2-2 8 0 14-2 13 1 3 3 2 6-1 8-1 4-8 6-19-2-3 2 0 2 2 32 4 8 5 5 3-1 3-4 4-30 3-8 11-7 11-3 2-4 3-16 3-3 3 0 8-1 6 2 4 6 2 14 1 3 6 1 5-2 2-2 3-18 3-4 16 3 35-4 13 5 14 0 5 4 6 11 18 7 13 2 2 2 3 12-5 10 0 10 3 8 3 4 3 1 3-1 2-2 2-10-1-10-4-10 2-8 0-4-1-2-6-4-1-4 1-10 3-5 3 0 2 1 6 5 2-1 8-6 16-1 11-3 8 1 5 1 8 6 8 14 6 3 3 0 3-3 2-12 3-5 3 0 0 1 5 14 3 3 5 1 5-2 3-8 3-3 5 0 11-8 5 1 8 7 8-6 6-2 8 1 11-1 13 3 8-1 0 171-6-10-5-6-2-1-6 0-5 3-5 4-6 19-3 3-8-11-2-2-6-1-5 2-2 4 2 14-3 3-1-15-2-4-5-5-2-5 2-16 0-4-2-2-3 0-8 7-14 6-2 0-6-3-2 0-7 4-5 10-1 12 0 20-2 8-4 6-6 1-2-1-3-4-2-10-1-10 3-10 1-12-1-10-3-1-2 1-2 4-2 10 1 8 3 9 2 3 0 2-2 3-2 9-2 6-4 4-3 0-4-4-3-6-1-8 0-20-3-8-3-1-2 2-3 5-3 1-5-4-3 1-1 6-2 18-2 4-3 1-2-1-3-3-2-7 2-26-3-6-5-5-3-1-4 4-4 14-3 4-1-16-2-8-2-4-3-2-3 0-2 2-3 6-5 25-8-8-3 0-4 1-4 4-3 0-2-15-3-3-5-1-4 5-2 13-2 5-5-22-3-3-8-1-5 2-1 8 2 10 9 16 0 6-4 20 2 8-4 4-2 1-3-1-1-10-3-16 0-30-4-7-5-2-6 3-4 8-2 40 2 10-1 3-3 2-5-3-1-2 3-12-2-14-3 1-3 9-5 7-2 1-3-1-4-5-2-8-1-24-3-14-4-6-2-1-6 0-2 2-2 3 0 8 7 16 1 10-4 15-2 3-6 2-5-4-2-6-1-10 1-20-2-4-4-1-3 1-8 7-13-4-6-4-12-17-4-9-2-2-3 0-4 5-5 26-3 22-2 3-2 1-6 0-2-1-4-7-7-32-3-10-5-5-8-3-3 1-4 7-7 8-4 8 0 12 4 10 1 6-1 6-2 8-3 1-3-7 0-18-2-11-2-25-3-8-3-3-3-1-3 2-4 8-2 10 0 16-2 7-8-8-3 0-2 1-6 5 0-1-2-2-2-8-2-4-4-3-3 0-3 1-2 9-3 4-3-2 0-10 5-5 1-4 0-8-3-4-3 1-5 10-8 4-4 3-3 16-1 3-4-21-11-16-7-5-11 1-2-3-2-31 2-3 2-1 6 1 3-1 2-10-1-10-3-8-4-5-3-2-8-2-2-3-5-8-6-8-2-8 1-8 8-8 6-11 3-1 5 2 3 0 6-3 5-1 11 5 5 1 5-1 14-9 5-1 4 1 7 9 3 1 5-2 3 1 7 11 3 3 3 0 3-2 1-3 4-12 3-2 5 1 3 0 4-5 4-2zM876 1271l-2 4 2 7 5 6 3 1 3 0 4-12 0-4-7-3-8 1zM904 1271l-3 2 2 4 3 2 5 1 6-5 1-2-1-2-6-1-5 1zM1061 1271l-2 1-2 3 1 4 3 4 3 0 3-4 0-6-2-2-4 0zM832 1273l-1 8-1 2-5 2-3 4-2 12 1 16 2 10 5 7 2 2 3-1 3-3 2-7 1-20 0-12-2-8 2-8-3-4-3 0zM1144 1275l1 2 1-2-1-1zM890 1293l-2 4-1 12 0 14 1 8 1 3 3 2 5 1 6-2 6-4 3-4 1-8-1-8-3-6-6-8-6-4-5-1zM1029 1295l-2 6-3 32 0 6 2 8 3 0 3-8 12-10 3-8-1-6-5-16-4-4-5-1zM983 1301l-2 4-4 8-1 8 0 8 2 6 3 2 5-1 3-5 3-10-1-10-1-4-4-5-3-1zM715 1305l-3 1-3 3-2 6-1 6 1 6 2 7 3 3 3 0 5-8 2-10-3-10-4-4zM1125 1305l-4 4-1 6 3 4 4 0 2-2 1-6-2-5-2-1zM765 1307l-6 8-2 8 0 6 2 6 2 4 2 2 3 0 3-2 3-4 3-8 1-12-1-4-3-4-3-1-3 1zM1165 1311l-2 4 1 6 3 6 4 6 8 4 6 0 3-2 3-4 3-6 0-6-2-4-7-4-19-1zM623 1319l-2 6 1 10 2 5 2 3 3 0 2-6 0-10-2-6-3-2-2 0zM1087 1319l-5 4-5 9 0 9 3 4 5-10 7-8 0-4-1-4-3 0zM806 1323l-3 2-1 4 0 16 4 8 3 2 5 0 3-2 2-6 0-8-1-8-4-6-5-2-3 0zM871 1405l-5 4-1 6 2 4 6 12 3 1 5-11 1-8-2-6-1-2-6-1zM194 1243l5 1 4 3 2 10 0 2-3 1-8-1-8-6 1-4 3-4 4-2zM307 1243l8-1 5 3 3 8-1 4-2 3-8 1-10-4-2-4 1-4 4-6zM409 1243l2-1 4 1 6 6 2 10-1 4-3 3-10 5-3-1-3-3-1-8 1-8 3-6 2-2zM473 1243l3 1 2 3 2 8-2 10-4 8-1 8-1-4-7-6-1-2 3-20 2-4 4-2zM140 1244l7 3 1 6-3 4-8 3 0-17zM264 1245l2 0 3 2 2 4-1 4-4 4-5 2-2-2 1-10 3-4zM347 1245l3-1 5 0 16 5 2 2 1 4-3 7-3 2-8-5-10 0-3-1-2-3-1-4 2-6zM175 1246l3 0 2 1 5 4-4 6-3 3-3 1-2-2-1-6 2-6zM441 1261l3-1 6 7 9 6 0 2-3 10-1 8 2 6 5 3 1 5 0 58-2 12-6 12-3 11-8 1-6 2-4 4-2 4-1 8 1 20-3 10-2 2-2-2-1-6-1-56-3-4-14-12-3-4-1-4 1-4 7-16 4-13 3-4 2-2 6 2 12 9 7 17 2-4 1-13-5-18-3-6-7-8-1-4 3-26 7-12zM440 1371l-2 2 0 2 3 0 1-4-1-1zM285 1272l0 23-3 4-1-8 1-12 3-6zM368 1316l3 2 1 3 3 14 0 12-2 26-2 3-5 0-3-1-2-4 1-4 5-10-2-14 0-10 1-10 2-6zM180 1320l3 0 3 1 8 10 12 6 4 6 0 10-6 16-3 16-2 4-3 0-2-2-1-8-5-2-2 1-3 2-3 9-2 2-3-4-1-12-7-16 1-4 6-12 2-16 3-6zM304 1321l4 6 5 18-5 20-3 16-1 2-1-2-10-5-3-7 5-30 4-12 3-6zM495 1323l8 1 10 7 8 3 5 3 1 6-1 8-3 10-2 16-2 1-8-2-3 1-3 2-8 12-2 0-3-1-5-10-3 2-3 6-3 1-2-4-2-10 2-14-4-16 1-4 2-2 9-4 7-10 3-2zM229 1325l2 2 1 6 0 24 3 12-2 8-2 2-3-2-1-14-3-10 1-20 1-5 2-3zM250 1325l3 6 1 14-1 11-3 6-2-1-2-10 1-22 3-4zM325 1324l4 3 4 18 1 20-1 6-2 4-3 3-3-1-3-4-4-24 0-10 6-14zM140 1337l5 4 3 4 2 22-7 24-3 4-3 2 0-60zM538 1342l1 3-1 5-1-7zM307 1388l0 25 6 14 2 6-3 18 2 16-1 4-4 2-2 0-2-4 1-80zM535 1391l3 0 2 8-2 28 7 8 1 6 0 26 0 3-3 3-3 2-5-1-3-3-2-4 2-10-1-58 1-5 2-3zM213 1393l2 0 3 2 1 4-2 10-2 2-2 1-3-1-2-2-1-6 1-6 2-2 2-2zM481 1400l9 23 2 28 1 6 4 8-1 4-4 4-5 1-7-3-3-2 0-2 1-10-1-16 0-28 1-10 2-2zM382 1405l1 6 6 20 0 10-2 16 2 10-1 2-4 2-3-2-1-2 3-8-3-18 2-36zM188 1415l9 6 3 4 1 8-1 8-12 8-1-8-1-10 1-10 1-6zM452 1422l1 3 1 8-2 12-3 1-3-2-3-7 1-6 7-8zM223 1425l4 4 2 6 0 8-3 3-4-1-2-4 0-12 1-3 1-1zM607 1426l8 4 2 3 0 4-2 7-2 4-3 0-1-1-2-6 0-14zM782 1429l3 4-1 4-2 3-3 0-1-3 1-6 2-2zM946 1429l0 6-3 3-3-3 3-4 2-2zM1201 1428l3 0 1 3 0 4-1 5-3 1-3-2 0-6 2-4zM726 1433l2 2 1 8-1 3-2-3-1-10zM642 1442l2 1 0 2-2 1-1-1 0-2zM989 1443l0 2 0-2zM210 1452l3 3 0 3-3-1-1-4zM191 1465l1 2-1 2-1-2 1-2zM427 1465l3 2-3 2-3-2 1-1 2-1zM449 1465l3 0 2 2-2 2-3 0-4-2 3-2zM621 1465l3 0 2 2-2 2-5-2 2-2zM653 1464l5 3-4 2-4 0 0-4zM696 1465l3-1 2 3-2 2-3 0-2-2 2-2zM726 1465l2-1 5 3-3 2-3 0-2-2 0-2zM1107 1464l3 1 0 2-2 2-2 0-3-2 1-2zM1136 1464l3 1 2 2-2 2-3 1-2-2-1-1 1-2z" fill="#ff9600" fill-rule="evenodd"/>
<path transform="scale(.5)" d="M237 1243l3 0 3 4 1 8-2 6-3 1-4-1-3-2-2-4 1-6 5-6zM309 1243l7 0 4 4 1 8-1 3-3 2-8-1-6-4-1-4 2-4 5-4zM688 1243l3-1 2 2 5 19 3 3 6-1 4-18 1-3 3-1 5 2 6 6 5 2 3 3 4 9 2 2 4 1 8 1 6-1 5-5 6-13 2-2 8 0 8-3 8-1 9 1 2 1 2 3 1 6-1 6-7 6-8 1-14-2-2 1-2 6 2 14 0 15-3 1-5-1-3 1-6 6-7 18-1 16-2 2-1-6 1-2 2-2 0-4-4-8-10-14-1-6 0-18-1-2-2-1-2 11 2 24 0 28-2 28-1 6-3 3-5-1-5-4-6-7-3 0-6 19-7 9-3-1-3-12-3-6-4-5-3-1-5 7-4 7-5 17-2 0-3-13-7-14-2-6-1-24 2-20-1-6-2-2-2 0-4 4-4 9-3-2-7-15-17-20-6-14-2 1-1 7-1 26 2 11 2 11 3 4 5 3 3 3 9 18 0 4-5 8-4 12-3 3-2 1-3 0-13-6-14-14-9 0-1-4 1-6 1-1 6 3 2-2 1-4 1-38-3-8-4-5-6-6-8-2-3-7-8-8-2-8 0-5 2-3 7-6 4-8 3-1 4 3 1 4-4 14-1 8 3 7 2 0 5-11 4-5 2-2 13-3 4-8 7-5 11-9 6-3 2 0 3 1 4 4 4 8 3 1 5-3 3 1 8 10 5 3 3 0 2-4 3-11 2-3 1-1 5 3 3-1 7-9zM678 1267l-6 10-8 8-3 4-3 11 0 7 2 4 9 11 11 4 2-1 2-16-2-14 0-8 2-6 7-8-1-2-2-2-8-3zM625 1279l-2 2 0 6 1 2 2 2 3-4 0-4 0-3-3-2zM712 1303l-3 3-2 5-2 12 2 8 2 6 3 3 3 0 3-5 3-6 2-12-1-6-2-4-5-4-3 0zM836 1243l10 0 6 5 2 7-1 8-1 4-6 3-5 0-12-5-1-6 2-10 2-4 3-2zM876 1243l5 0 11 3 19-3 13-1 6 1 8 5 13-1 6 3 7 11 12 4 18 8 1 4-1 4-3 2-5-2-3 1-3 5 0 12-4 16-1 10 1 10 2 4 3 1 5-1 4-6 5-18 2 0 8 4 7-2 2-6 2-18 2-2 6 2 1 4-1 10-3 24 3 28-2 18 2 16-2 8-4 5-2-1-11-13-3-1-8-1-6-9-3-6 0-16-2-3-2-3-3 0-3 4-10 26-3 4-19 3-21 2-11-3-3 1-2 3-3 6-3 2-7 0-4-2-2-8 3-16-3-16 1-12 2-4 2-1 18-7 4-3 1-9 0-14-2-6-5-10-1-4 12-9 4-5 2-4-1-2-5-2-46 0-1-4 0-10 1-6 3-4zM1053 1242l8 1 5 2 7 8 6 10 6 4 6 1 4-1 3-16 1-2 3 0 3 12 4 4 14 5 11 2 18 31 6 9 8 18 5 7 11 9 14-17 2-6 0-4-3-4-5-4-5-3-14-2-5-5-2-6 0-4 10-2 3-2 3-8-1-7-2-5-3-2-11 2-4-2-2-2-1-4 5-8 5-4 11 3 6-3 5 0 13 3 8-1 0 157-10-15 0-4 2-8-1-4-8-10-7-15-3 0-2 9 6 24 0 4-1 2-6 2-10-6-3 1-6 15-5 4-5-1-4-3-1-4 0-6 3-14-1-2-2-2-3 0-3 2-9 8-7 8-3 2-5 0-8-4-5 2-9 8-4 8-6 22 0 15-3 4-3-1-1-6 1-12 0-26 7-20 7-6 2-4-3-26 1-3 5-2 1-3 0-20 5-13 0-6-3-1-6 10-14 10-5 8-1 12 5 20 0 8-2 6-14 30-3 18 1 20-1 7-3 0-3-5 2-16-4-14-3-7-8-7-2-6-1-8 2-12-5-28 3-6 14-15 8-1 4-4 1-6 1-16 6-20 1-8-3-2-5 0-6 2-4 4 0 6 4 10 0 6-3 14-2 4-2 3-3-2-8-18-3-2-7-3-3-2 1-20-5-6-2-4 3-8 4-4 6-1 8 1 9-4zM1123 1301l-5 8-1 8 3 4 9 4 2 2 3 21 2-2 2-9-1-6-3-10 1-16-2-4-7-1zM196 1245l4 2 2 4 0 6-3 1-5-1-4-4 0-4 4-4zM411 1245l3 0 3 2 3 4 1 4-2 6-5 3-5 1-3-1-2-5 0-4 2-6 4-4zM140 1246l5 3 1 4-3 4-6 1 0-12zM350 1246l5 1 13 5 2 3-2 4-8-2-8 1-3-1-3-4 0-4 1-2zM470 1246l3-1 3 1 2 5 1 8-3 7-3 1-3 0-3-4 0-10 3-6zM1142 1246l3 0 2 1 7 10 1 4-4 4-4 2-8 0-3-1-2-3-1-6 3-6 4-4zM264 1248l2 0 2 3 1 2-3 4-2 1-3-1 0-6 1-2zM1008 1249l3 2 3 6 0 4-4 3-5-1-2-4 0-6 2-4zM175 1250l3 0 1 1 0 4-1 2-3 0 0-6zM583 1251l6 1 3 3 1 2-2 4-5 3-3 1-4-2-3-2 0-2 2-4 5-4zM444 1266l6 5 3 6-7 30-2 1-6-4-2-3-1-4 2-20 5-10zM820 1269l5 0 1 4 0 4-6 8-1 4-1 10 2 26-8-4-9-2-2-2-1-10 1-18 2-8 3-4 12-8zM860 1269l9 0 3 14 11 18 1 8 0 20-3 22 0 16 2 16-1 8-3 6-16 8-3 0-3-2-1-4-1-6 3-8 8-10 2-5 0-7-3-9-2-2-3 3-9 18-3 14-4 4-3 0-5-4-2-4 0-8 2-12-1-6-2-3-3-1-5 1-3-2 0-5 0-13 8 7 3-1 3-5 4-12 3-36 4-10 10-8zM449 1317l8 0 3 3 0 37-3 16-3 5-2 2-3-5-1-14 2-24-1-20zM779 1319l3-1 8 5 5 1 3 1 5 26 3 5 9 5 0 4-2 4-7 6-3 4-9 24-4 2-3-1-5-5-3-6-1-4 3-16-11-20-1-4 0-4 7-14 3-12zM368 1321l3 2 2 8 0 10-1 6-1 2-3-1-2-9 0-10 2-8zM183 1323l3 1 8 10 11 5 2 4 0 5-1 5-7 11-5 4-14 4-2-1-3-2-4-8 0-4 5-16 2-12 2-4 2-2zM301 1325l3-1 3 3 3 12 0 8-3 8-8 15-3-2 1-9-1-18 5-16zM497 1325l6 1 8 6 10 5 2 2 1 4-1 8-7 17-19 9-2-1-10-11-8-18 0-4 7-4 8-12 3-2zM325 1328l3 3 2 12 0 8-2 11-3 0-4-17 0-8 4-8zM419 1328l6 1 9 6 3 6 2 8 1 8-2 6-11 12-5 1-5-1-7-6-4-6 1-8 7-20 4-6zM229 1332l1 5-1 8-2-6 1-6zM250 1333l1 6 0 6-1 2-1-4 1-8zM140 1341l3 3 1 3 1 8-2 6-3 3-3 0 0-23zM820 1378l5 1 5 6 0 6-1 6-4 7-3 1-5-1-3-1-2-4-1-4 1-6 2-6 4-4zM640 1383l2 0 3 2 0 6-3 2-2-1-1-5 0-4zM441 1385l5-1 2 3-2 6-5 3-8 2-2-3 2-6 7-4zM967 1393l1 4-1 7-2-5 2-6zM739 1397l11-1 2 1 0 14-2 16-3 4-3-1-2-5-4-16 1-12zM1016 1421l2 0 1 0 0 6 0 6-3 2-2-4 2-10zM484 1422l3 3 1 8-1 22-3-2-3-10 0-14 2-6zM908 1423l3 3 3 7 0 8-3 10-3 1-2-9 0-12 2-8zM191 1425l3 0 3 2 1 4-2 5-2 2-3-2-1-5 1-6zM830 1426l3 1 3 5 0 7-1 6-2 3-3 0-2-5 0-9 2-7zM863 1426l2 2 3 7-1 6-2 6-2 1-4-5 0-10 2-6zM538 1443l2 0 2 4-1 12 1 10-2 2-2 0-3-4 2-6-1-12 1-6zM487 1460l3 5-1 4-2 1-3 0-2-3 4-6z" fill="#ff7800" fill-rule="evenodd"/>
<path transform="scale(.5)" d="M237 1245l3 0 3 6-1 7-3 3-5-2-2-4 0-6 4-4zM309 1245l6-1 3 3 2 6-1 4-2 1-5 1-5-2-2-2-1-2 1-4 3-4zM688 1244l3 0 2 3 1 2 2 14-1 2-2 2-8-3-4-5 1-6 5-8zM715 1245l5 2 6 8 5 4 2 6-4 16 0 16 0 12 2 20 0 14-4 24-1 3-2 1-1 1-3-3-5-13-3-4-5 4-3 5-4 18-1 3-3 2-3-1-6-10-4-10 1-14 5-10 1-6-1-28-3-12 0-6 2-4 6-4 3-10 2-1 6 1 2 2 2 6 3 0 3-1 3-3 0-4-8-4-1-3 1-11 2-5 2-1zM699 1283l0 2 2 4 3-1 1-5-1-1-3-1zM711 1301l-3 4-2 6-1 14 2 10 5 11 3-1 7-14 2-8 1-8-1-4-3-6-3-3-6-2zM836 1245l5-1 5 1 5 4 2 6-1 6-6 5-8 1-5-2-3-3-1-5 1-6 2-4 3-2zM876 1245l3-1 10 4 6 0 13-3 14-1 5 1 11 7 13-2 5 3 5 10 14 3 6 5 2 4-6 12 1 12-4 22-1 22-3 16-5 9-6 5-2 0-9-3-8 2-2 1-8 8-6 0-8-2-9 2-5 4-5 10-2-1-1-5 3-10 1-4-6-16 0-8 4-6 18-8 2-4 3-22-2-16 0-6 11-16 1-6-2-2-3 0-16 0-13-2-14 2-5 0-3-3 0-5 0-7 3-5zM1051 1245l5-2 7 2 5 6 2 6-1 4-2 2-11 5-4 3-1 8 3 12 0 6-1 8-2 5-3-1-6-14-11-8-1-6 3-12-7-12 1-4 5-4 5 0 5 2 3-1 5-5zM196 1247l3 2 1 2-1 5-3 0-2-1-2-2 1-4 3-2zM624 1246l2 0 3 1 3 4 2 6 1 4-2 6-4 4-5 0-3-1-8-7-1-2 2-6 7-8zM787 1247l8-1 8 1 3 2 2 4-1 6-5 4-7 3-8-1-8-3-2 0-3 3-8 18-1 12-1 4-9 16-3 3-2-1-6-4-3-8-1-32 4-2 11 0 5-2 4-4 5-12 2-1 8-1 8-4zM140 1249l2 2 0 2-2 2-3 1 0-7zM350 1249l2 0 4 2 1 2-2 2-3 1-3-1-1-2 1-4zM411 1248l4 1 3 4 0 4-4 4-5 0-2-2-1-4 3-6zM470 1249l3-2 3 1 1 3 1 6-2 6-3 1-3-1-1-2-1-6 2-6zM1142 1248l4 1 3 4 0 6-2 3-5 2-3-2-2-3 0-6 4-4zM1188 1249l13 4 8-1 0 65-5 0-14-9-11-5-3-2-1-2 7-14 2-10-1-6-5-10 0-4 3-4 5-2zM1166 1251l3 0 3 4 0 2-3 4-6 0-1-2 0-4 3-4zM1008 1253l1 4-1 2-3-2 0-3 1-1zM1099 1253l3 0 1 12-1 1-3-2-1-5 1-6zM672 1255l3 2 0 4-3 4-2-4 1-4zM645 1260l3 0 10 11 2 4 0 4-5 24-2 5-3 3-10 8-3 0-6-10-3-6 7-28 8-14zM1107 1268l7 1 9 6 8 2 3 2 2 6 1 4-2 4-12 4-3 3-6 13-1 4 3 4 11 6 2 4 1 8 1 23 3-1 5-14 2-12-1-18 2-7 3-2 8 5 4 4 16 28 1 6 0 14 0 4-3 3-13 1-8-4-8-2-6 1-5 4-3 0-3-5-7 0-5 0-6 5-3 1-2-1-3-4-2-7 0-6 4-14 0-18 3-10 3-26-3-18zM556 1270l3-1 3 4 0 8-3 4-3-1-2-3-1-6 2-4zM863 1271l2 1 2 1 2 10 6 12 2 10 0 6-2 6-9 16-9 0-3 1-2 4-2 7-1 11-3 0-5-6-3-7 5-44 5-16 9-9 5-3zM1077 1271l3-2 11 2 4 2 2 4 2 6 0 4-7 16-4 5-8 6-5 2-3 1-1-2-2-6 1-10 7-28zM820 1274l1 1-3 6-1 6 0 26-1 4-2 2-2-1-6-3-1-2-2-6-1-12 2-12 2-2 11-6zM444 1276l2 0 1 5-1 6-2 6-3 0-1-4 1-8 2-4zM586 1277l5-1 6 1 3 4 0 14-4 18 10 30 9 14 0 8-2 15-3 1-8 1-5-1-6-6-3-6-2-28 1-22-9-16-2-6 1-6 2-8 5-6zM997 1321l16 2 3 2 2 8 3 22-1 6-2 6-2 3-6 2-5 0-8 1-3-1-3-4-5-23 6-10 5-14zM661 1324l14 6 3 3 2 6 0 8-2 16-3 10-6 9-3 1-2-2-4-8-3-10-1-22 2-12 1-4zM304 1327l3 5 1 9-1 7-3 4-3-1-3-8 3-12 3-4zM368 1326l3 4 0 10-3 1 0-14zM497 1327l6 1 8 6 8 4 3 5-2 6-6 14-3 3-8 4-6 0-5-4-5-7-3-10 0-6 4-8 4-5 3-3zM782 1325l13 5 3 5 3 16 4 12-2 4-5 6-5 1-6-4-5-7-7-14 0-8 5-14zM1059 1327l8 0 1 2 5 30-2 8-3 6-7 6-5 2-3-1-2-3-8-10-4-16-1-6 3-6 7-7 5-4 4-1zM183 1328l3 0 6 7 10 6 1 2 0 6-7 10-5 4-8 3-5-1-3-3-1-7 8-26zM422 1331l5 2 7 6 2 6 1 8-1 6-3 6-6 4-5 3-5-2-4-3-3-4-1-4 1-6 7-18 2-3 3-1zM1201 1331l3-1 5 0 0 38-11-5-4-4-3-8 0-6 1-4 4-5 5-5zM325 1335l2 4-1 6-1 2-1-4 1-8zM454 1334l3 4-1 19-2 7-2-7 2-22zM138 1349l-1 4 0-4zM873 1379l3 2 1 6-1 5-3 3-8 2-3-4 1-4 2-4 7-6zM1209 1381l0 16-2-4-1-4 3-8zM1013 1384l3 2 1 3 0 4-1 2-3-1-2-3-1-4 1-2zM1051 1384l2 0 3 2 3 5 0 7-3 8-3-2-8-11 0-4 3-4zM1155 1385l2 4-2 6-2 1-2-3 1-6 3-2zM787 1385l3 1 1 1-1 8-3 1-2-3 0-4 1-2zM820 1389l2 0 0 6-2 1-1-1-1-2 1-4zM1091 1387l2 2 0 2-5 7-1-3 2-6z" fill="#fa4600" fill-rule="evenodd"/>
<path transform="scale(.5)" d="M1056 1245l4 0 4 3 3 5 1 4-4 6-11 4-4 4 0 10 2 16 0 6-3 1-5-11-10-8 0-6 4-12-6-8-1-4 2-2 2-1 8 3 3-1 5-7 4-2zM237 1247l2 0 2 4 1 4-3 4-2 0-4-4 0-4 3-4zM309 1247l6-1 2 2 2 5-2 4-5 1-5-3-1-4 2-4zM688 1246l3 0 2 3 1 8-1 6-2 1-3 0-4-5 0-6 3-6zM715 1246l3 1 4 4 2 8-1 5-5 1-6-2-2-8 2-6 1-2zM836 1246l8 1 5 2 2 4 0 4-2 4-3 2-8 1-6-3-1-4 0-4 1-4 2-2zM879 1246l13 5 3 0 16-5 8 0 5 1 4 2 5 6 0 2-1 2-2 1-19 3-5 0-11-3-16 3-4-2-1-4 0-6 2-4zM624 1249l2-1 3 2 3 5 0 6-3 5-3 1-2-1-5-3-2-4 1-6 4-4zM787 1249l8-1 8 2 3 5-2 4-3 3-6 1-5 0-8-4-2-2 0-2 4-4 3-2zM196 1251l0 2 0-2zM473 1250l3 1 1 4-1 4-3 2-3-2 0-4 2-4zM411 1252l3 1 0 4-3 0-1-2 0-2zM948 1253l3 0 3 2 1 4 0 8 2 3 2 1 5-4 6-1 7 3 2 4-1 4-4 10 3 14-6 34-4 20-2 5-3 2-3 1-2-2-9-7-2 1-4 8-4 2-6 1-5 7-3 1-13 0-3-1-2-2-2-6-2-12 5-8 9-7 6-15 3-6 0-4-4-18 1-8 12-18 2-8 10-8zM955 1317l-12 6-4 4-1 8 2 10 3 4 3-1 3-15 8-12 0-5zM1142 1251l3 0 1 2 1 4-1 2-1 1-4-1-1-2 0-4zM1185 1253l5 0 11 7 8-2 0 53-5 0-6-1-10-7-5-4 0-6 5-24-5-10 0-4 1-2zM648 1264l5 5 3 4 1 8-6 22-3 5-6 3-2 1-3-2-3-5-1-6 5-20 7-14zM747 1273l13 0 2 2-1 22-3 8-6 7-2 0-3-2-3-3-1-6 0-24 1-2 3-2zM1085 1273l6 2 2 2 2 4 1 6-2 6-4 8-5 5-5 3-3 0-2-2-1-4 0-6 5-20 1-2 4-2zM1112 1273l8 6 8 2 2 2 1 4-3 3-9 5-7 14-2 2-2-8 1-6 4-10-3-12 2-2zM723 1275l3 2 0 2-1 18-2 4-11-4-3 0-1 2-3 12-2 10 4 24-6 12-5 16-3 1-2-1-4-6-1-6 0-8 6-12 1-6-1-32-1-12 2-2 6 4 5 1 3 0 4-11 12-8zM860 1277l3-1 0 1 3 8 6 8 2 8 0 6-2 8-7 9-11 3-8 8-2 1-1-3 1-22 5-22 3-6 7-6zM586 1281l5-2 3 1 3 3 0 4-2 12-4 9-2 3-3-1-3-3-2-4-2-6 2-10 4-6zM809 1283l4 0 1 4 0 20-2 5-3-1-3-3-2-9 0-10 2-4 2-2zM1150 1317l5 3 3 3 7 12 4 10 1 6-1 8-3 4-3 1-5 1-11-2-4-2-2-2-1-6 4-28 2-6 3-2zM594 1323l3 2 3 4 9 30-1 10-3 4-3 2-3 0-4-2-4-8-3-28 2-10 1-3 2-1zM1107 1323l3-1 10 4 3 1 4 4 2 6 0 8-2 8-2 4-2 2-5 2-14-1-2-3 2-26 0-4 3-4zM1000 1326l10 2 3 2 2 3 3 20-1 6-3 4-4 2-10-3-3-1-2-4-2-12 3-14 2-4zM497 1328l6 2 8 7 5 3 2 3-1 6-5 10-7 6-5 1-5-2-4-5-3-6-1-6 1-6 3-8 4-4zM726 1329l1 2 1 4-2 14-3 5-3-2-1-5 1-6 5-12zM664 1331l2 0 6 1 3 3 2 6 0 8-3 14-2 8-3 3-3-1-2-3-4-13 0-18 1-4 3-4zM1056 1331l5 0 4 2 3 8 2 12-1 8-2 6-3 4-5 3-6-1-6-6-4-8-2-10 1-6 2-4 7-6 3-2zM304 1333l1 6-1 5-2-3-1-2 3-6zM785 1333l8 1 2 2 1 3 2 10 0 8-2 4-3 3-3 0-3-2-2-3-5-12-1-4 0-6 4-4zM422 1335l5 1 4 3 3 4 1 6-1 6-1 5-3 3-5 4-3 1-5-2-4-3-2-4 0-4 3-9 3-6 4-5zM186 1336l8 5 3 4 0 4-3 5-4 3-4 2-3 0-3-2 0-8 5-12zM1198 1341l3-2 3 1 3 3 1 6-2 6-2 2-3 0-3-2-2-8 2-6z" fill="#fa0a00" fill-rule="evenodd"/>
<path transform="scale(.5)" d="M1053 1247l6-1 2 1 4 4 1 6-2 4-3 2-8 2-5-1-1-1-1-4 1-4 2-4 4-4zM237 1249l2 1 1 1-1 6-2 0-2-2 0-2 2-4zM309 1249l3-2 3 1 2 3-1 4-1 1-6-1-1-2 1-4zM688 1248l3 0 2 5 0 6-1 2-1 1-3 0-3-4 0-5 2-4zM715 1248l3 1 3 4 0 4-1 4-2 2-3 0-3-2-1-6 2-6zM836 1248l8 1 4 2 1 2 0 4-3 4-8 1-5-2-1-7 3-4zM879 1248l3 1 6 4 1 2 0 2-3 2-5 2-2 0-3-2-1-6 2-4zM906 1249l10-1 7 1 3 2 1 4-1 2-3 2-12 3-10-3-2-2-1-2 3-4 4-2zM790 1251l8 0 5 2 0 2-1 2-4 3-5 1-6-2-2-4 4-4zM624 1252l2-1 3 3 1 3-2 4-2 2-4-2-2-4 2-4zM648 1269l2 1 3 3 1 6-2 16-4 8-6 2-2-1-3-9 3-14 5-10 2-2zM940 1268l6-1 2 2 10 10 2 6 0 16-2 6-7 8-8 4-8 2-3-3-7-17-1-8 1-6 7-10 7-8zM967 1269l6 0 2 2 1 2-1 5-2 4-3 2-3-1-3-6 0-4 3-4zM1198 1269l11 0 0 37-11 0-8-4-3-5-1-8 3-10 4-7 4-3zM1042 1273l3 4 0 10-3 1-2-1-3-2-1-2 1-6 5-4zM750 1277l6 0 2 2 1 4-1 14-3 6-3 3-2 1-3-2-2-6 2-18 2-4zM1083 1279l2-2 3 0 3 3 1 3 0 8-4 8-5 3-3 0-1-3 0-10 4-10zM720 1283l3 4-1 4-2 3-5-2-2-3 2-4 4-2zM586 1285l3-1 2 0 3 3-1 8-4 7-3 1-3-3-1-3 1-8 3-4zM857 1284l3 0 5 4 4 5 3 6 0 6-1 6-3 6-3 3-5 1-8-2-3 3-3 0 0-5 4-10 1-16 4-6zM809 1287l2 2 1 4-1 4-2 4-3-8 3-6zM970 1291l3 3 1 3 1 8-5 27-5 19-3 4-3 0-2-1-5-5-1-4 0-6 2-6 8-10 2-24 4-6 2-2zM699 1299l2-1 3 3-2 22 3 18-1 4-5 8-3 11-3 3-3-2-1-8 1-6 5-10 0-34 1-6 2-2zM927 1323l5-1 2 3 3 26-1 4-6 4-6 10-8 2-5-2-3-6-1-8 3-8 7-6 6-14 4-4zM1150 1322l3 0 5 4 6 11 2 12-1 4-2 4-5 3-5 0-6-1-3-4-1-6 2-16 1-6 2-4zM1110 1326l5 0 5 2 3 1 3 4 2 6-1 6-1 6-3 5-3 1-5 0-5-1-4-3-1-6 0-8 1-8 2-4zM594 1329l4 2 3 10 4 18-3 7-3 2-2-1-3-4-3-10-1-14 1-8 2-2zM497 1330l3 0 5 3 8 12 0 4-2 6-6 6-5 1-3-1-4-4-2-4-2-6 1-6 2-6 3-4zM1002 1332l6 0 2 2 3 4 2 11-2 8-3 1-2-1-8-6-1-4-1-6 3-8zM669 1335l3 2 1 2 2 6-3 14-3 6-3-1-2-5-2-10 2-10 2-3 2-1zM1053 1335l6-1 3 1 3 4 2 6 0 14-2 6-4 5-5 1-3-2-5-5-3-7-1-12 3-6 5-4zM422 1338l5 1 3 3 2 5 0 8-5 6-5 3-3-1-3-2-2-4 0-4 3-7 4-7zM790 1341l3 1 1 5-1 7-3 1-3-2-1-6 1-4 3-2z" fill="#e6000a" fill-rule="evenodd"/>
<path transform="scale(.5)" d="M1053 1249l6-2 4 4 1 6-3 4-5 2-5-2-2-6 4-6zM312 1250l3 1 0 3-3 0-1-3zM688 1250l3 0 0 1 1 4-1 4-3 0-1-2 0-6zM715 1250l3 1 1 2 0 4 0 2-4 2-2-2-1-4 2-4zM836 1251l2-1 6 2 2 2 0 3-5 3-5-1-2-4 1-4zM879 1251l2 0 2 2 1 2-1 2-4 1-2-1 0-2 1-4zM908 1250l6 0 6 1 2 2 0 2-3 3-8 2-5-2-3-3 3-4zM793 1254l4 1-2 2-3 0-1-2zM940 1273l6 0 5 3 4 5 2 6 1 10-2 8-4 6-4 3-8 2-3-1-5-6-4-10-1-8 2-6 6-8 5-4zM970 1272l2 1 0 2-2 1-1-3zM1198 1273l11 0 0 29-11 1-5-3-4-5 0-6 1-7 3-6 4-3zM648 1275l2 1 1 7-1 8-2 6-3 2-3-2-1-6 1-8 5-8zM752 1284l2 5-2 8-1-2-1-2 2-8zM1085 1287l1 2-1 2 0-4zM860 1289l5 3 3 3 3 8-3 10-3 4-2 1-6-3-3-8 0-14 4-4zM970 1298l3 3 0 11-3 13-4 8-4 15-3 1-2-1-3-5 0-4 2-4 7-8 2-20 3-8zM701 1305l0 5-2 5-1-8 1-1 2-1zM1153 1325l2 1 3 3 5 12 0 8-2 4-3 2-8 1-3-2-1-5 0-10 1-8 2-4 3-2zM927 1327l3 0 3 2 2 8 0 8-2 6-5 6-6 10-6 2-3-2-3-4 0-8 2-6 7-8 4-10 3-4zM1112 1328l8 1 3 2 3 5 0 5 0 6-3 6-3 1-8 0-5-5-1-6 0-6 1-4 3-4zM497 1332l3 0 3 2 6 9 0 8-4 6-5 2-3-1-5-7-1-10 1-4 3-4zM594 1334l3 1 2 6 1 8-1 7-2 1-3-4-2-10 1-8zM1056 1337l3 0 3 2 2 4 2 8-1 10-3 4-3 3-6-1-2-3-3-5-2-6 1-6 1-4 3-3 4-3zM669 1341l2 2 0 4-2 8-3-2 0-4 0-6 2-2zM425 1343l3 2 1 6-2 5-5 3-3-2-1-4 1-6 3-4zM1008 1342l0 3-1-2z" fill="#c8000a" fill-rule="evenodd"/>
<path transform="scale(.5)" d="M1056 1249l3 0 4 4-1 4-3 4-6-1-2-3 1-4 3-4zM715 1252l3 3-3 3-1-5zM911 1253l4 0 1 2-2 1-6-1 2-2zM691 1253l0 3-2-1zM838 1255l1 0-1 0zM1201 1275l8 1 0 23-3 1-5 0-4-1-3-2-2-4-1-6 2-6 3-4 5-2zM940 1276l6 0 3 1 4 4 2 6 0 14-3 6-4 4-5 2-5-1-4-5-4-8 0-6 1-6 4-6 4-4zM860 1293l3 0 2 2 3 4 1 8-4 7-2 1-3-1-3-5-1-10 1-4 2-2zM970 1305l0 10-2-2 2-8zM1153 1328l2 1 3 3 3 7 0 8-3 4-5 2-3-2-2-4-1-10 2-6 2-2zM927 1330l3 0 2 3 1 10-1 4-5 7-5 10-3 2-3 0-2-2-2-5 0-4 2-5 6-7 5-12zM1112 1330l3 0 5 1 4 4 1 4 0 6-2 5-3 2-2 1-5-2-4-4-1-4 0-6 3-6zM497 1334l3 0 3 2 3 7 0 6-3 5-3 1-3-1-3-5-1-8 3-6zM1053 1341l3-1 3 0 2 3 2 4 1 10-3 6-2 2-3 0-3-1-4-7 0-10 4-6z" fill="#d23c41" fill-rule="evenodd"/>
</g>
<rect x="68.7" y="602.6" width="538" height="179.2" fill="none" stroke="#000" stroke-width="1.4"/>
<line x1="68.7" y1="781.8" x2="68.7" y2="793.8" stroke="#000" stroke-width="1.3"/>
<line x1="68.7" y1="602.6" x2="68.7" y2="590.6" stroke="#000" stroke-width="1.3"/>
<text x="68.7" y="811.2" font-size="15.5" text-anchor="middle" font-weight="normal" font-family="Liberation Sans, sans-serif">0</text>
<line x1="95.6" y1="781.8" x2="95.6" y2="787.8" stroke="#000" stroke-width="1.3"/>
<line x1="95.6" y1="602.6" x2="95.6" y2="596.6" stroke="#000" stroke-width="1.3"/>
<line x1="122.5" y1="781.8" x2="122.5" y2="793.8" stroke="#000" stroke-width="1.3"/>
<line x1="122.5" y1="602.6" x2="122.5" y2="590.6" stroke="#000" stroke-width="1.3"/>
<text x="122.5" y="811.2" font-size="15.5" text-anchor="middle" font-weight="normal" font-family="Liberation Sans, sans-serif">20</text>
<line x1="149.4" y1="781.8" x2="149.4" y2="787.8" stroke="#000" stroke-width="1.3"/>
<line x1="149.4" y1="602.6" x2="149.4" y2="596.6" stroke="#000" stroke-width="1.3"/>
<line x1="176.3" y1="781.8" x2="176.3" y2="793.8" stroke="#000" stroke-width="1.3"/>
<line x1="176.3" y1="602.6" x2="176.3" y2="590.6" stroke="#000" stroke-width="1.3"/>
<text x="176.3" y="811.2" font-size="15.5" text-anchor="middle" font-weight="normal" font-family="Liberation Sans, sans-serif">40</text>
<line x1="203.2" y1="781.8" x2="203.2" y2="787.8" stroke="#000" stroke-width="1.3"/>
<line x1="203.2" y1="602.6" x2="203.2" y2="596.6" stroke="#000" stroke-width="1.3"/>
<line x1="230.1" y1="781.8" x2="230.1" y2="793.8" stroke="#000" stroke-width="1.3"/>
<line x1="230.1" y1="602.6" x2="230.1" y2="590.6" stroke="#000" stroke-width="1.3"/>
<text x="230.1" y="811.2" font-size="15.5" text-anchor="middle" font-weight="normal" font-family="Liberation Sans, sans-serif">60</text>
<line x1="257" y1="781.8" x2="257" y2="787.8" stroke="#000" stroke-width="1.3"/>
<line x1="257" y1="602.6" x2="257" y2="596.6" stroke="#000" stroke-width="1.3"/>
<line x1="283.9" y1="781.8" x2="283.9" y2="793.8" stroke="#000" stroke-width="1.3"/>
<line x1="283.9" y1="602.6" x2="283.9" y2="590.6" stroke="#000" stroke-width="1.3"/>
<text x="283.9" y="811.2" font-size="15.5" text-anchor="middle" font-weight="normal" font-family="Liberation Sans, sans-serif">80</text>
<line x1="310.8" y1="781.8" x2="310.8" y2="787.8" stroke="#000" stroke-width="1.3"/>
<line x1="310.8" y1="602.6" x2="310.8" y2="596.6" stroke="#000" stroke-width="1.3"/>
<line x1="337.7" y1="781.8" x2="337.7" y2="793.8" stroke="#000" stroke-width="1.3"/>
<line x1="337.7" y1="602.6" x2="337.7" y2="590.6" stroke="#000" stroke-width="1.3"/>
<text x="337.7" y="811.2" font-size="15.5" text-anchor="middle" font-weight="normal" font-family="Liberation Sans, sans-serif">100</text>
<line x1="364.6" y1="781.8" x2="364.6" y2="787.8" stroke="#000" stroke-width="1.3"/>
<line x1="364.6" y1="602.6" x2="364.6" y2="596.6" stroke="#000" stroke-width="1.3"/>
<line x1="391.5" y1="781.8" x2="391.5" y2="793.8" stroke="#000" stroke-width="1.3"/>
<line x1="391.5" y1="602.6" x2="391.5" y2="590.6" stroke="#000" stroke-width="1.3"/>
<text x="391.5" y="811.2" font-size="15.5" text-anchor="middle" font-weight="normal" font-family="Liberation Sans, sans-serif">120</text>
<line x1="418.4" y1="781.8" x2="418.4" y2="787.8" stroke="#000" stroke-width="1.3"/>
<line x1="418.4" y1="602.6" x2="418.4" y2="596.6" stroke="#000" stroke-width="1.3"/>
<line x1="445.3" y1="781.8" x2="445.3" y2="793.8" stroke="#000" stroke-width="1.3"/>
<line x1="445.3" y1="602.6" x2="445.3" y2="590.6" stroke="#000" stroke-width="1.3"/>
<text x="445.3" y="811.2" font-size="15.5" text-anchor="middle" font-weight="normal" font-family="Liberation Sans, sans-serif">140</text>
<line x1="472.2" y1="781.8" x2="472.2" y2="787.8" stroke="#000" stroke-width="1.3"/>
<line x1="472.2" y1="602.6" x2="472.2" y2="596.6" stroke="#000" stroke-width="1.3"/>
<line x1="499.1" y1="781.8" x2="499.1" y2="793.8" stroke="#000" stroke-width="1.3"/>
<line x1="499.1" y1="602.6" x2="499.1" y2="590.6" stroke="#000" stroke-width="1.3"/>
<text x="499.1" y="811.2" font-size="15.5" text-anchor="middle" font-weight="normal" font-family="Liberation Sans, sans-serif">160</text>
<line x1="526" y1="781.8" x2="526" y2="787.8" stroke="#000" stroke-width="1.3"/>
<line x1="526" y1="602.6" x2="526" y2="596.6" stroke="#000" stroke-width="1.3"/>
<line x1="552.9" y1="781.8" x2="552.9" y2="793.8" stroke="#000" stroke-width="1.3"/>
<line x1="552.9" y1="602.6" x2="552.9" y2="590.6" stroke="#000" stroke-width="1.3"/>
<text x="552.9" y="811.2" font-size="15.5" text-anchor="middle" font-weight="normal" font-family="Liberation Sans, sans-serif">180</text>
<line x1="579.8" y1="781.8" x2="579.8" y2="787.8" stroke="#000" stroke-width="1.3"/>
<line x1="579.8" y1="602.6" x2="579.8" y2="596.6" stroke="#000" stroke-width="1.3"/>
<line x1="606.7" y1="781.8" x2="606.7" y2="793.8" stroke="#000" stroke-width="1.3"/>
<line x1="606.7" y1="602.6" x2="606.7" y2="590.6" stroke="#000" stroke-width="1.3"/>
<text x="606.7" y="811.2" font-size="15.5" text-anchor="middle" font-weight="normal" font-family="Liberation Sans, sans-serif">200</text>
<text x="337.7" y="832.6" font-size="15" text-anchor="middle" font-weight="normal" font-family="Liberation Sans, sans-serif">Year</text>
<line x1="62.7" y1="781.34" x2="68.7" y2="781.34" stroke="#000" stroke-width="1.3"/>
<line x1="606.7" y1="781.34" x2="612.7" y2="781.34" stroke="#000" stroke-width="1.3"/>
<line x1="62.7" y1="763.47" x2="68.7" y2="763.47" stroke="#000" stroke-width="1.3"/>
<line x1="606.7" y1="763.47" x2="612.7" y2="763.47" stroke="#000" stroke-width="1.3"/>
<line x1="62.7" y1="727.73" x2="68.7" y2="727.73" stroke="#000" stroke-width="1.3"/>
<line x1="606.7" y1="727.73" x2="612.7" y2="727.73" stroke="#000" stroke-width="1.3"/>
<line x1="62.7" y1="709.86" x2="68.7" y2="709.86" stroke="#000" stroke-width="1.3"/>
<line x1="606.7" y1="709.86" x2="612.7" y2="709.86" stroke="#000" stroke-width="1.3"/>
<line x1="62.7" y1="674.12" x2="68.7" y2="674.12" stroke="#000" stroke-width="1.3"/>
<line x1="606.7" y1="674.12" x2="612.7" y2="674.12" stroke="#000" stroke-width="1.3"/>
<line x1="62.7" y1="656.25" x2="68.7" y2="656.25" stroke="#000" stroke-width="1.3"/>
<line x1="606.7" y1="656.25" x2="612.7" y2="656.25" stroke="#000" stroke-width="1.3"/>
<line x1="62.7" y1="620.51" x2="68.7" y2="620.51" stroke="#000" stroke-width="1.3"/>
<line x1="606.7" y1="620.51" x2="612.7" y2="620.51" stroke="#000" stroke-width="1.3"/>
<line x1="62.7" y1="602.64" x2="68.7" y2="602.64" stroke="#000" stroke-width="1.3"/>
<line x1="606.7" y1="602.64" x2="612.7" y2="602.64" stroke="#000" stroke-width="1.3"/>
<line x1="56.7" y1="745.6" x2="68.7" y2="745.6" stroke="#000" stroke-width="1.3"/>
<line x1="606.7" y1="745.6" x2="618.7" y2="745.6" stroke="#000" stroke-width="1.3"/>
<text x="50.5" y="750.2" font-size="15.5" text-anchor="end" font-weight="normal" font-family="Liberation Sans, sans-serif">0</text>
<line x1="56.7" y1="691.99" x2="68.7" y2="691.99" stroke="#000" stroke-width="1.3"/>
<line x1="606.7" y1="691.99" x2="618.7" y2="691.99" stroke="#000" stroke-width="1.3"/>
<text x="50.5" y="696.59" font-size="15.5" text-anchor="end" font-weight="normal" font-family="Liberation Sans, sans-serif">30N</text>
<line x1="56.7" y1="638.38" x2="68.7" y2="638.38" stroke="#000" stroke-width="1.3"/>
<line x1="606.7" y1="638.38" x2="618.7" y2="638.38" stroke="#000" stroke-width="1.3"/>
<text x="50.5" y="642.98" font-size="15.5" text-anchor="end" font-weight="normal" font-family="Liberation Sans, sans-serif">60N</text>
<text transform="translate(14.2 691.7) rotate(-90)" font-size="15" text-anchor="middle" font-weight="normal" font-family="Liberation Sans, sans-serif">Latitude</text>
<text x="68.6" y="584.6" font-size="22.5" text-anchor="start" font-weight="bold" font-family="Liberation Sans, sans-serif">C</text>
<rect x="641.2" y="604.5" width="13.2" height="7.95" fill="#d23c41" stroke="#111" stroke-width="0.9"/>
<rect x="641.2" y="612.45" width="13.2" height="7.95" fill="#c8000a" stroke="#111" stroke-width="0.9"/>
<rect x="641.2" y="620.4" width="13.2" height="7.95" fill="#e6000a" stroke="#111" stroke-width="0.9"/>
<rect x="641.2" y="628.35" width="13.2" height="7.95" fill="#fa0a00" stroke="#111" stroke-width="0.9"/>
<rect x="641.2" y="636.3" width="13.2" height="7.95" fill="#fa4600" stroke="#111" stroke-width="0.9"/>
<rect x="641.2" y="644.25" width="13.2" height="7.95" fill="#ff7800" stroke="#111" stroke-width="0.9"/>
<rect x="641.2" y="652.2" width="13.2" height="7.95" fill="#ff9600" stroke="#111" stroke-width="0.9"/>
<rect x="641.2" y="660.15" width="13.2" height="7.95" fill="#ffb400" stroke="#111" stroke-width="0.9"/>
<rect x="641.2" y="668.1" width="13.2" height="7.95" fill="#ffd728" stroke="#111" stroke-width="0.9"/>
<rect x="641.2" y="676.05" width="13.2" height="7.95" fill="#ffeb50" stroke="#111" stroke-width="0.9"/>
<rect x="641.2" y="684" width="13.2" height="7.95" fill="#fffaa0" stroke="#111" stroke-width="0.9"/>
<rect x="641.2" y="691.95" width="13.2" height="7.95" fill="#c8e4f5" stroke="#111" stroke-width="0.9"/>
<rect x="641.2" y="699.9" width="13.2" height="7.95" fill="#a5d7f0" stroke="#111" stroke-width="0.9"/>
<rect x="641.2" y="707.85" width="13.2" height="7.95" fill="#7dc8f0" stroke="#111" stroke-width="0.9"/>
<rect x="641.2" y="715.8" width="13.2" height="7.95" fill="#28bef0" stroke="#111" stroke-width="0.9"/>
<rect x="641.2" y="723.75" width="13.2" height="7.95" fill="#00b9f5" stroke="#111" stroke-width="0.9"/>
<rect x="641.2" y="731.7" width="13.2" height="7.95" fill="#0f9bf5" stroke="#111" stroke-width="0.9"/>
<rect x="641.2" y="739.65" width="13.2" height="7.95" fill="#1e87f0" stroke="#111" stroke-width="0.9"/>
<rect x="641.2" y="747.6" width="13.2" height="7.95" fill="#286ee6" stroke="#111" stroke-width="0.9"/>
<rect x="641.2" y="755.55" width="13.2" height="7.95" fill="#2d4be1" stroke="#111" stroke-width="0.9"/>
<rect x="641.2" y="763.5" width="13.2" height="7.95" fill="#1928f0" stroke="#111" stroke-width="0.9"/>
<rect x="641.2" y="771.45" width="13.2" height="7.95" fill="#0f0af5" stroke="#111" stroke-width="0.9"/>
<text x="660.6" y="616.85" font-size="12.6" text-anchor="start" font-weight="normal" font-family="Liberation Sans, sans-serif">2</text>
<text x="660.6" y="632.75" font-size="12.6" text-anchor="start" font-weight="normal" font-family="Liberation Sans, sans-serif">1.6</text>
<text x="660.6" y="648.65" font-size="12.6" text-anchor="start" font-weight="normal" font-family="Liberation Sans, sans-serif">1.2</text>
<text x="660.6" y="664.55" font-size="12.6" text-anchor="start" font-weight="normal" font-family="Liberation Sans, sans-serif">0.8</text>
<text x="660.6" y="680.45" font-size="12.6" text-anchor="start" font-weight="normal" font-family="Liberation Sans, sans-serif">0.4</text>
<text x="660.6" y="696.35" font-size="12.6" text-anchor="start" font-weight="normal" font-family="Liberation Sans, sans-serif">0</text>
<text x="660.6" y="712.25" font-size="12.6" text-anchor="start" font-weight="normal" font-family="Liberation Sans, sans-serif">−0.4</text>
<text x="660.6" y="728.15" font-size="12.6" text-anchor="start" font-weight="normal" font-family="Liberation Sans, sans-serif">−0.8</text>
<text x="660.6" y="744.05" font-size="12.6" text-anchor="start" font-weight="normal" font-family="Liberation Sans, sans-serif">−1.2</text>
<text x="660.6" y="759.95" font-size="12.6" text-anchor="start" font-weight="normal" font-family="Liberation Sans, sans-serif">−1.6</text>
<text x="660.6" y="775.85" font-size="12.6" text-anchor="start" font-weight="normal" font-family="Liberation Sans, sans-serif">−2</text>
<text x="654.6" y="799.6" font-size="14.5" text-anchor="middle" font-weight="normal" font-family="Liberation Sans, sans-serif">SST [°C]</text>
</svg></body></html>
